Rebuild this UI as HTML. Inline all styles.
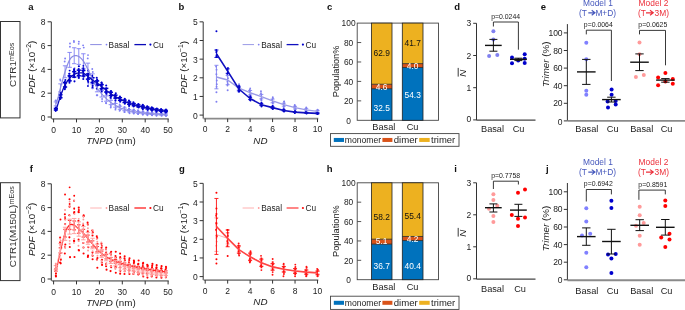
<!DOCTYPE html>
<html><head><meta charset="utf-8"><style>
html,body{margin:0;padding:0;background:#fff;}
svg{display:block;font-family:"Liberation Sans", sans-serif;filter:blur(0.3px);}
</style></head><body>
<svg width="685" height="310" viewBox="0 0 685 310">
<rect width="685" height="310" fill="#fff"/>
<rect x="0.5" y="21.5" width="19.5" height="96.4" fill="none" stroke="#333" stroke-width="1"/>
<text transform="translate(12.2,64.8) rotate(-90)" x="0" y="3.55" font-size="9.9" text-anchor="middle" fill="#333">CTR1<tspan font-size="7.2" dy="-2.0">mEos</tspan></text>
<rect x="0.5" y="182.7" width="19.5" height="97.9" fill="none" stroke="#333" stroke-width="1"/>
<text transform="translate(12.2,226.7) rotate(-90)" x="0" y="3.55" font-size="9.9" text-anchor="middle" fill="#333">CTR1(M150L)<tspan font-size="7.2" dy="-2.0">mEos</tspan></text>
<text x="30.8" y="10.1" font-size="9.5" font-weight="bold" text-anchor="middle" fill="#111">a</text>
<line x1="51.3" y1="21.8" x2="51.3" y2="118.9" stroke="#333" stroke-width="1"/>
<line x1="47.6" y1="117" x2="51.3" y2="117" stroke="#333" stroke-width="1"/>
<text x="45.6" y="120.54" font-size="8.5" text-anchor="end" fill="#222">0</text>
<line x1="47.6" y1="93.2" x2="51.3" y2="93.2" stroke="#333" stroke-width="1"/>
<text x="45.6" y="96.74" font-size="8.5" text-anchor="end" fill="#222">2</text>
<line x1="47.6" y1="69.4" x2="51.3" y2="69.4" stroke="#333" stroke-width="1"/>
<text x="45.6" y="72.94" font-size="8.5" text-anchor="end" fill="#222">4</text>
<line x1="47.6" y1="45.6" x2="51.3" y2="45.6" stroke="#333" stroke-width="1"/>
<text x="45.6" y="49.14" font-size="8.5" text-anchor="end" fill="#222">6</text>
<line x1="47.6" y1="21.8" x2="51.3" y2="21.8" stroke="#333" stroke-width="1"/>
<text x="45.6" y="25.34" font-size="8.5" text-anchor="end" fill="#222">8</text>
<line x1="51.8" y1="118.9" x2="168.7" y2="118.9" stroke="#8a8a8a" stroke-width="1.9"/>
<line x1="53.6" y1="118.9" x2="53.6" y2="122.4" stroke="#333" stroke-width="1"/>
<text x="53.6" y="132.74" font-size="8.5" text-anchor="middle" fill="#222">0</text>
<line x1="76.5" y1="118.9" x2="76.5" y2="122.4" stroke="#333" stroke-width="1"/>
<text x="76.5" y="132.74" font-size="8.5" text-anchor="middle" fill="#222">10</text>
<line x1="99.4" y1="118.9" x2="99.4" y2="122.4" stroke="#333" stroke-width="1"/>
<text x="99.4" y="132.74" font-size="8.5" text-anchor="middle" fill="#222">20</text>
<line x1="122.3" y1="118.9" x2="122.3" y2="122.4" stroke="#333" stroke-width="1"/>
<text x="122.3" y="132.74" font-size="8.5" text-anchor="middle" fill="#222">30</text>
<line x1="145.2" y1="118.9" x2="145.2" y2="122.4" stroke="#333" stroke-width="1"/>
<text x="145.2" y="132.74" font-size="8.5" text-anchor="middle" fill="#222">40</text>
<line x1="168.1" y1="118.9" x2="168.1" y2="122.4" stroke="#333" stroke-width="1"/>
<text x="168.1" y="132.74" font-size="8.5" text-anchor="middle" fill="#222">50</text>
<text x="110.9" y="143.7" font-size="9.8" text-anchor="middle" fill="#222"><tspan font-style="italic">TNPD</tspan> (nm)</text>
<text transform="translate(31.6,67.4) rotate(-90)" x="0" y="3.3" font-size="9.8" text-anchor="middle" fill="#222"><tspan font-style="italic">PDF</tspan> (×10<tspan font-size="6.8" dy="-3.6">−2</tspan><tspan dy="3.6">)</tspan></text>
<circle cx="55.93" cy="107.51" r="0.95" fill="#8080f4"/>
<circle cx="55.97" cy="106.96" r="0.95" fill="#8080f4"/>
<circle cx="55.54" cy="100.54" r="0.95" fill="#8080f4"/>
<circle cx="56.16" cy="100.68" r="0.95" fill="#8080f4"/>
<circle cx="60.26" cy="95.1" r="0.95" fill="#8080f4"/>
<circle cx="60.45" cy="95.55" r="0.95" fill="#8080f4"/>
<circle cx="60.45" cy="80.55" r="0.95" fill="#8080f4"/>
<circle cx="60.19" cy="79.37" r="0.95" fill="#8080f4"/>
<circle cx="65.34" cy="84.48" r="0.95" fill="#8080f4"/>
<circle cx="65.24" cy="81.51" r="0.95" fill="#8080f4"/>
<circle cx="64.7" cy="61.48" r="0.95" fill="#8080f4"/>
<circle cx="65.12" cy="58.49" r="0.95" fill="#8080f4"/>
<circle cx="69.25" cy="73.71" r="0.95" fill="#8080f4"/>
<circle cx="69.61" cy="73.66" r="0.95" fill="#8080f4"/>
<circle cx="69.93" cy="46.81" r="0.95" fill="#8080f4"/>
<circle cx="69.97" cy="43.57" r="0.95" fill="#8080f4"/>
<circle cx="74.45" cy="71.11" r="0.95" fill="#8080f4"/>
<circle cx="74.56" cy="68.28" r="0.95" fill="#8080f4"/>
<circle cx="73.89" cy="40.92" r="0.95" fill="#8080f4"/>
<circle cx="73.98" cy="41.99" r="0.95" fill="#8080f4"/>
<circle cx="78.74" cy="75.36" r="0.95" fill="#8080f4"/>
<circle cx="78.63" cy="69.88" r="0.95" fill="#8080f4"/>
<circle cx="78.7" cy="43.83" r="0.95" fill="#8080f4"/>
<circle cx="78.86" cy="41.64" r="0.95" fill="#8080f4"/>
<circle cx="83.69" cy="76.29" r="0.95" fill="#8080f4"/>
<circle cx="83.71" cy="73.71" r="0.95" fill="#8080f4"/>
<circle cx="83.76" cy="47.61" r="0.95" fill="#8080f4"/>
<circle cx="83.1" cy="45.33" r="0.95" fill="#8080f4"/>
<circle cx="88.32" cy="83.87" r="0.95" fill="#8080f4"/>
<circle cx="88.01" cy="81.15" r="0.95" fill="#8080f4"/>
<circle cx="87.72" cy="58.42" r="0.95" fill="#8080f4"/>
<circle cx="88.01" cy="55.08" r="0.95" fill="#8080f4"/>
<circle cx="92.18" cy="88.3" r="0.95" fill="#8080f4"/>
<circle cx="92.92" cy="88.29" r="0.95" fill="#8080f4"/>
<circle cx="92.77" cy="72.06" r="0.95" fill="#8080f4"/>
<circle cx="92.25" cy="69.02" r="0.95" fill="#8080f4"/>
<circle cx="97.33" cy="95.22" r="0.95" fill="#8080f4"/>
<circle cx="96.75" cy="95.23" r="0.95" fill="#8080f4"/>
<circle cx="96.75" cy="81.12" r="0.95" fill="#8080f4"/>
<circle cx="96.97" cy="79.11" r="0.95" fill="#8080f4"/>
<circle cx="102.07" cy="101.34" r="0.95" fill="#8080f4"/>
<circle cx="102.09" cy="99.04" r="0.95" fill="#8080f4"/>
<circle cx="101.35" cy="88.96" r="0.95" fill="#8080f4"/>
<circle cx="101.32" cy="86.99" r="0.95" fill="#8080f4"/>
<circle cx="106.2" cy="103.26" r="0.95" fill="#8080f4"/>
<circle cx="105.99" cy="103.03" r="0.95" fill="#8080f4"/>
<circle cx="106.56" cy="95.06" r="0.95" fill="#8080f4"/>
<circle cx="106.64" cy="93.6" r="0.95" fill="#8080f4"/>
<circle cx="110.75" cy="107.55" r="0.95" fill="#8080f4"/>
<circle cx="110.87" cy="105.93" r="0.95" fill="#8080f4"/>
<circle cx="110.93" cy="98.78" r="0.95" fill="#8080f4"/>
<circle cx="110.95" cy="98.01" r="0.95" fill="#8080f4"/>
<circle cx="115.44" cy="109.64" r="0.95" fill="#8080f4"/>
<circle cx="115.61" cy="108.18" r="0.95" fill="#8080f4"/>
<circle cx="115.27" cy="102.72" r="0.95" fill="#8080f4"/>
<circle cx="115.45" cy="100.98" r="0.95" fill="#8080f4"/>
<circle cx="119.62" cy="110.84" r="0.95" fill="#8080f4"/>
<circle cx="120.07" cy="110.09" r="0.95" fill="#8080f4"/>
<circle cx="120.1" cy="105.74" r="0.95" fill="#8080f4"/>
<circle cx="119.66" cy="104.49" r="0.95" fill="#8080f4"/>
<circle cx="124.56" cy="112.17" r="0.95" fill="#8080f4"/>
<circle cx="124.47" cy="111.65" r="0.95" fill="#8080f4"/>
<circle cx="124.78" cy="107.09" r="0.95" fill="#8080f4"/>
<circle cx="124.24" cy="107.24" r="0.95" fill="#8080f4"/>
<circle cx="129.54" cy="113.18" r="0.95" fill="#8080f4"/>
<circle cx="129.14" cy="112.36" r="0.95" fill="#8080f4"/>
<circle cx="129.03" cy="108.77" r="0.95" fill="#8080f4"/>
<circle cx="129.02" cy="108.5" r="0.95" fill="#8080f4"/>
<circle cx="133.83" cy="113.62" r="0.95" fill="#8080f4"/>
<circle cx="133.65" cy="113.18" r="0.95" fill="#8080f4"/>
<circle cx="133.37" cy="109.8" r="0.95" fill="#8080f4"/>
<circle cx="133.94" cy="109.5" r="0.95" fill="#8080f4"/>
<circle cx="138.11" cy="114.12" r="0.95" fill="#8080f4"/>
<circle cx="138.12" cy="114.07" r="0.95" fill="#8080f4"/>
<circle cx="138.28" cy="111.03" r="0.95" fill="#8080f4"/>
<circle cx="138.01" cy="110.3" r="0.95" fill="#8080f4"/>
<circle cx="142.78" cy="114.58" r="0.95" fill="#8080f4"/>
<circle cx="142.86" cy="114.55" r="0.95" fill="#8080f4"/>
<circle cx="142.65" cy="111.35" r="0.95" fill="#8080f4"/>
<circle cx="143.03" cy="111.31" r="0.95" fill="#8080f4"/>
<circle cx="147.45" cy="115.32" r="0.95" fill="#8080f4"/>
<circle cx="147.19" cy="114.6" r="0.95" fill="#8080f4"/>
<circle cx="147.24" cy="112.11" r="0.95" fill="#8080f4"/>
<circle cx="147.76" cy="111.59" r="0.95" fill="#8080f4"/>
<circle cx="151.89" cy="115.14" r="0.95" fill="#8080f4"/>
<circle cx="152.18" cy="115.18" r="0.95" fill="#8080f4"/>
<circle cx="151.95" cy="112.4" r="0.95" fill="#8080f4"/>
<circle cx="151.9" cy="112.47" r="0.95" fill="#8080f4"/>
<circle cx="156.47" cy="115.77" r="0.95" fill="#8080f4"/>
<circle cx="156.58" cy="115.24" r="0.95" fill="#8080f4"/>
<circle cx="156.58" cy="113.02" r="0.95" fill="#8080f4"/>
<circle cx="156.37" cy="112.44" r="0.95" fill="#8080f4"/>
<circle cx="161.58" cy="115.5" r="0.95" fill="#8080f4"/>
<circle cx="161.62" cy="115.67" r="0.95" fill="#8080f4"/>
<circle cx="161.59" cy="113.29" r="0.95" fill="#8080f4"/>
<circle cx="161.01" cy="112.74" r="0.95" fill="#8080f4"/>
<circle cx="166.08" cy="116.09" r="0.95" fill="#8080f4"/>
<circle cx="165.83" cy="115.76" r="0.95" fill="#8080f4"/>
<circle cx="165.68" cy="113.64" r="0.95" fill="#8080f4"/>
<circle cx="165.46" cy="113.43" r="0.95" fill="#8080f4"/>
<line x1="55.89" y1="101.92" x2="55.89" y2="105.9" stroke="#8080f4" stroke-width="0.9"/>
<line x1="53.69" y1="101.92" x2="58.09" y2="101.92" stroke="#8080f4" stroke-width="0.9"/>
<line x1="53.69" y1="105.9" x2="58.09" y2="105.9" stroke="#8080f4" stroke-width="0.9"/>
<line x1="60.47" y1="83.86" x2="60.47" y2="91.83" stroke="#8080f4" stroke-width="0.9"/>
<line x1="58.27" y1="83.86" x2="62.67" y2="83.86" stroke="#8080f4" stroke-width="0.9"/>
<line x1="58.27" y1="91.83" x2="62.67" y2="91.83" stroke="#8080f4" stroke-width="0.9"/>
<line x1="65.05" y1="65.8" x2="65.05" y2="77.76" stroke="#8080f4" stroke-width="0.9"/>
<line x1="62.85" y1="65.8" x2="67.25" y2="65.8" stroke="#8080f4" stroke-width="0.9"/>
<line x1="62.85" y1="77.76" x2="67.25" y2="77.76" stroke="#8080f4" stroke-width="0.9"/>
<line x1="69.63" y1="52.43" x2="69.63" y2="67.33" stroke="#8080f4" stroke-width="0.9"/>
<line x1="67.43" y1="52.43" x2="71.83" y2="52.43" stroke="#8080f4" stroke-width="0.9"/>
<line x1="67.43" y1="67.33" x2="71.83" y2="67.33" stroke="#8080f4" stroke-width="0.9"/>
<line x1="74.21" y1="47.75" x2="74.21" y2="63.68" stroke="#8080f4" stroke-width="0.9"/>
<line x1="72.01" y1="47.75" x2="76.41" y2="47.75" stroke="#8080f4" stroke-width="0.9"/>
<line x1="72.01" y1="63.68" x2="76.41" y2="63.68" stroke="#8080f4" stroke-width="0.9"/>
<line x1="78.79" y1="48.68" x2="78.79" y2="64.41" stroke="#8080f4" stroke-width="0.9"/>
<line x1="76.59" y1="48.68" x2="80.99" y2="48.68" stroke="#8080f4" stroke-width="0.9"/>
<line x1="76.59" y1="64.41" x2="80.99" y2="64.41" stroke="#8080f4" stroke-width="0.9"/>
<line x1="83.37" y1="53.77" x2="83.37" y2="68.37" stroke="#8080f4" stroke-width="0.9"/>
<line x1="81.17" y1="53.77" x2="85.57" y2="53.77" stroke="#8080f4" stroke-width="0.9"/>
<line x1="81.17" y1="68.37" x2="85.57" y2="68.37" stroke="#8080f4" stroke-width="0.9"/>
<line x1="87.95" y1="63.13" x2="87.95" y2="75.67" stroke="#8080f4" stroke-width="0.9"/>
<line x1="85.75" y1="63.13" x2="90.15" y2="63.13" stroke="#8080f4" stroke-width="0.9"/>
<line x1="85.75" y1="75.67" x2="90.15" y2="75.67" stroke="#8080f4" stroke-width="0.9"/>
<line x1="92.53" y1="73.83" x2="92.53" y2="84.01" stroke="#8080f4" stroke-width="0.9"/>
<line x1="90.33" y1="73.83" x2="94.73" y2="73.83" stroke="#8080f4" stroke-width="0.9"/>
<line x1="90.33" y1="84.01" x2="94.73" y2="84.01" stroke="#8080f4" stroke-width="0.9"/>
<line x1="97.11" y1="83.86" x2="97.11" y2="91.83" stroke="#8080f4" stroke-width="0.9"/>
<line x1="94.91" y1="83.86" x2="99.31" y2="83.86" stroke="#8080f4" stroke-width="0.9"/>
<line x1="94.91" y1="91.83" x2="99.31" y2="91.83" stroke="#8080f4" stroke-width="0.9"/>
<line x1="101.69" y1="90.55" x2="101.69" y2="97.04" stroke="#8080f4" stroke-width="0.9"/>
<line x1="99.49" y1="90.55" x2="103.89" y2="90.55" stroke="#8080f4" stroke-width="0.9"/>
<line x1="99.49" y1="97.04" x2="103.89" y2="97.04" stroke="#8080f4" stroke-width="0.9"/>
<line x1="106.27" y1="95.9" x2="106.27" y2="101.21" stroke="#8080f4" stroke-width="0.9"/>
<line x1="104.07" y1="95.9" x2="108.47" y2="95.9" stroke="#8080f4" stroke-width="0.9"/>
<line x1="104.07" y1="101.21" x2="108.47" y2="101.21" stroke="#8080f4" stroke-width="0.9"/>
<line x1="110.85" y1="100.31" x2="110.85" y2="104.65" stroke="#8080f4" stroke-width="0.9"/>
<line x1="108.65" y1="100.31" x2="113.05" y2="100.31" stroke="#8080f4" stroke-width="0.9"/>
<line x1="108.65" y1="104.65" x2="113.05" y2="104.65" stroke="#8080f4" stroke-width="0.9"/>
<line x1="115.43" y1="103.52" x2="115.43" y2="107.15" stroke="#8080f4" stroke-width="0.9"/>
<line x1="113.23" y1="103.52" x2="117.63" y2="103.52" stroke="#8080f4" stroke-width="0.9"/>
<line x1="113.23" y1="107.15" x2="117.63" y2="107.15" stroke="#8080f4" stroke-width="0.9"/>
<line x1="120.01" y1="106.2" x2="120.01" y2="109.24" stroke="#8080f4" stroke-width="0.9"/>
<line x1="117.81" y1="106.2" x2="122.21" y2="106.2" stroke="#8080f4" stroke-width="0.9"/>
<line x1="117.81" y1="109.24" x2="122.21" y2="109.24" stroke="#8080f4" stroke-width="0.9"/>
<line x1="124.59" y1="108.07" x2="124.59" y2="110.7" stroke="#8080f4" stroke-width="0.9"/>
<line x1="122.39" y1="108.07" x2="126.79" y2="108.07" stroke="#8080f4" stroke-width="0.9"/>
<line x1="122.39" y1="110.7" x2="126.79" y2="110.7" stroke="#8080f4" stroke-width="0.9"/>
<line x1="129.17" y1="109.54" x2="129.17" y2="111.84" stroke="#8080f4" stroke-width="0.9"/>
<line x1="126.97" y1="109.54" x2="131.37" y2="109.54" stroke="#8080f4" stroke-width="0.9"/>
<line x1="126.97" y1="111.84" x2="131.37" y2="111.84" stroke="#8080f4" stroke-width="0.9"/>
<line x1="133.75" y1="110.61" x2="133.75" y2="112.68" stroke="#8080f4" stroke-width="0.9"/>
<line x1="131.55" y1="110.61" x2="135.95" y2="110.61" stroke="#8080f4" stroke-width="0.9"/>
<line x1="131.55" y1="112.68" x2="135.95" y2="112.68" stroke="#8080f4" stroke-width="0.9"/>
<line x1="138.33" y1="111.41" x2="138.33" y2="113.3" stroke="#8080f4" stroke-width="0.9"/>
<line x1="136.13" y1="111.41" x2="140.53" y2="111.41" stroke="#8080f4" stroke-width="0.9"/>
<line x1="136.13" y1="113.3" x2="140.53" y2="113.3" stroke="#8080f4" stroke-width="0.9"/>
<line x1="142.91" y1="112.08" x2="142.91" y2="113.82" stroke="#8080f4" stroke-width="0.9"/>
<line x1="140.71" y1="112.08" x2="145.11" y2="112.08" stroke="#8080f4" stroke-width="0.9"/>
<line x1="140.71" y1="113.82" x2="145.11" y2="113.82" stroke="#8080f4" stroke-width="0.9"/>
<line x1="147.49" y1="112.62" x2="147.49" y2="114.24" stroke="#8080f4" stroke-width="0.9"/>
<line x1="145.29" y1="112.62" x2="149.69" y2="112.62" stroke="#8080f4" stroke-width="0.9"/>
<line x1="145.29" y1="114.24" x2="149.69" y2="114.24" stroke="#8080f4" stroke-width="0.9"/>
<line x1="152.07" y1="113.02" x2="152.07" y2="114.55" stroke="#8080f4" stroke-width="0.9"/>
<line x1="149.87" y1="113.02" x2="154.27" y2="113.02" stroke="#8080f4" stroke-width="0.9"/>
<line x1="149.87" y1="114.55" x2="154.27" y2="114.55" stroke="#8080f4" stroke-width="0.9"/>
<line x1="156.65" y1="113.42" x2="156.65" y2="114.87" stroke="#8080f4" stroke-width="0.9"/>
<line x1="154.45" y1="113.42" x2="158.85" y2="113.42" stroke="#8080f4" stroke-width="0.9"/>
<line x1="154.45" y1="114.87" x2="158.85" y2="114.87" stroke="#8080f4" stroke-width="0.9"/>
<line x1="161.23" y1="113.69" x2="161.23" y2="115.08" stroke="#8080f4" stroke-width="0.9"/>
<line x1="159.03" y1="113.69" x2="163.43" y2="113.69" stroke="#8080f4" stroke-width="0.9"/>
<line x1="159.03" y1="115.08" x2="163.43" y2="115.08" stroke="#8080f4" stroke-width="0.9"/>
<line x1="165.81" y1="113.96" x2="165.81" y2="115.28" stroke="#8080f4" stroke-width="0.9"/>
<line x1="163.61" y1="113.96" x2="168.01" y2="113.96" stroke="#8080f4" stroke-width="0.9"/>
<line x1="163.61" y1="115.28" x2="168.01" y2="115.28" stroke="#8080f4" stroke-width="0.9"/>
<circle cx="55.72" cy="110.86" r="1.05" fill="#0000cc"/>
<circle cx="55.53" cy="110.26" r="1.05" fill="#0000cc"/>
<circle cx="56.04" cy="109.66" r="1.05" fill="#0000cc"/>
<circle cx="56.21" cy="108.63" r="1.05" fill="#0000cc"/>
<circle cx="55.95" cy="107.99" r="1.05" fill="#0000cc"/>
<circle cx="56.09" cy="107.81" r="1.05" fill="#0000cc"/>
<circle cx="60.31" cy="98.97" r="1.05" fill="#0000cc"/>
<circle cx="60.49" cy="98.23" r="1.05" fill="#0000cc"/>
<circle cx="60.82" cy="97" r="1.05" fill="#0000cc"/>
<circle cx="60.34" cy="95.28" r="1.05" fill="#0000cc"/>
<circle cx="60.76" cy="94.44" r="1.05" fill="#0000cc"/>
<circle cx="60.7" cy="92.99" r="1.05" fill="#0000cc"/>
<circle cx="64.81" cy="89.17" r="1.05" fill="#0000cc"/>
<circle cx="65.3" cy="87.65" r="1.05" fill="#0000cc"/>
<circle cx="65.28" cy="85.93" r="1.05" fill="#0000cc"/>
<circle cx="65.29" cy="83.45" r="1.05" fill="#0000cc"/>
<circle cx="64.66" cy="81.77" r="1.05" fill="#0000cc"/>
<circle cx="65.34" cy="80.07" r="1.05" fill="#0000cc"/>
<circle cx="69.45" cy="82.72" r="1.05" fill="#0000cc"/>
<circle cx="69.65" cy="81.24" r="1.05" fill="#0000cc"/>
<circle cx="69.61" cy="79.71" r="1.05" fill="#0000cc"/>
<circle cx="69.23" cy="76.74" r="1.05" fill="#0000cc"/>
<circle cx="69.33" cy="75.68" r="1.05" fill="#0000cc"/>
<circle cx="69.28" cy="73.77" r="1.05" fill="#0000cc"/>
<circle cx="74.49" cy="81.33" r="1.05" fill="#0000cc"/>
<circle cx="74.21" cy="77.32" r="1.05" fill="#0000cc"/>
<circle cx="74.06" cy="75.84" r="1.05" fill="#0000cc"/>
<circle cx="74.33" cy="72.94" r="1.05" fill="#0000cc"/>
<circle cx="74.1" cy="70.78" r="1.05" fill="#0000cc"/>
<circle cx="74.07" cy="69.29" r="1.05" fill="#0000cc"/>
<circle cx="78.83" cy="78.06" r="1.05" fill="#0000cc"/>
<circle cx="78.69" cy="76.88" r="1.05" fill="#0000cc"/>
<circle cx="78.53" cy="74.3" r="1.05" fill="#0000cc"/>
<circle cx="78.87" cy="71.45" r="1.05" fill="#0000cc"/>
<circle cx="78.69" cy="68.96" r="1.05" fill="#0000cc"/>
<circle cx="78.89" cy="66.25" r="1.05" fill="#0000cc"/>
<circle cx="83.27" cy="79.01" r="1.05" fill="#0000cc"/>
<circle cx="83.53" cy="76.78" r="1.05" fill="#0000cc"/>
<circle cx="83.53" cy="74.75" r="1.05" fill="#0000cc"/>
<circle cx="83.17" cy="71.64" r="1.05" fill="#0000cc"/>
<circle cx="83.53" cy="69.58" r="1.05" fill="#0000cc"/>
<circle cx="83.31" cy="68.26" r="1.05" fill="#0000cc"/>
<circle cx="88.25" cy="81.94" r="1.05" fill="#0000cc"/>
<circle cx="87.85" cy="80.46" r="1.05" fill="#0000cc"/>
<circle cx="88.18" cy="78.26" r="1.05" fill="#0000cc"/>
<circle cx="87.92" cy="75.2" r="1.05" fill="#0000cc"/>
<circle cx="88.2" cy="73.7" r="1.05" fill="#0000cc"/>
<circle cx="88.26" cy="70.61" r="1.05" fill="#0000cc"/>
<circle cx="92.66" cy="85.85" r="1.05" fill="#0000cc"/>
<circle cx="92.58" cy="83.48" r="1.05" fill="#0000cc"/>
<circle cx="92.6" cy="81.26" r="1.05" fill="#0000cc"/>
<circle cx="92.24" cy="79.01" r="1.05" fill="#0000cc"/>
<circle cx="92.17" cy="76.69" r="1.05" fill="#0000cc"/>
<circle cx="92.21" cy="75.81" r="1.05" fill="#0000cc"/>
<circle cx="96.85" cy="88.6" r="1.05" fill="#0000cc"/>
<circle cx="97.38" cy="85.41" r="1.05" fill="#0000cc"/>
<circle cx="97.39" cy="84.17" r="1.05" fill="#0000cc"/>
<circle cx="97.38" cy="81.72" r="1.05" fill="#0000cc"/>
<circle cx="97.17" cy="79.7" r="1.05" fill="#0000cc"/>
<circle cx="96.74" cy="77.73" r="1.05" fill="#0000cc"/>
<circle cx="101.7" cy="91.48" r="1.05" fill="#0000cc"/>
<circle cx="101.38" cy="89.49" r="1.05" fill="#0000cc"/>
<circle cx="102.04" cy="87.93" r="1.05" fill="#0000cc"/>
<circle cx="101.55" cy="85.7" r="1.05" fill="#0000cc"/>
<circle cx="101.95" cy="83.97" r="1.05" fill="#0000cc"/>
<circle cx="101.43" cy="82.75" r="1.05" fill="#0000cc"/>
<circle cx="106.36" cy="93.76" r="1.05" fill="#0000cc"/>
<circle cx="106.18" cy="92.82" r="1.05" fill="#0000cc"/>
<circle cx="106.19" cy="91.22" r="1.05" fill="#0000cc"/>
<circle cx="106.2" cy="89.24" r="1.05" fill="#0000cc"/>
<circle cx="106.27" cy="88.26" r="1.05" fill="#0000cc"/>
<circle cx="106.2" cy="85.55" r="1.05" fill="#0000cc"/>
<circle cx="110.58" cy="97.74" r="1.05" fill="#0000cc"/>
<circle cx="111.05" cy="96.16" r="1.05" fill="#0000cc"/>
<circle cx="110.86" cy="94.91" r="1.05" fill="#0000cc"/>
<circle cx="110.96" cy="92.99" r="1.05" fill="#0000cc"/>
<circle cx="110.57" cy="91.49" r="1.05" fill="#0000cc"/>
<circle cx="111.05" cy="90.99" r="1.05" fill="#0000cc"/>
<circle cx="115.44" cy="100.33" r="1.05" fill="#0000cc"/>
<circle cx="115.61" cy="98.5" r="1.05" fill="#0000cc"/>
<circle cx="115.24" cy="97.39" r="1.05" fill="#0000cc"/>
<circle cx="115.5" cy="95.91" r="1.05" fill="#0000cc"/>
<circle cx="115.22" cy="94.9" r="1.05" fill="#0000cc"/>
<circle cx="115.79" cy="93.25" r="1.05" fill="#0000cc"/>
<circle cx="120.17" cy="101.67" r="1.05" fill="#0000cc"/>
<circle cx="120.29" cy="100.69" r="1.05" fill="#0000cc"/>
<circle cx="119.82" cy="99.82" r="1.05" fill="#0000cc"/>
<circle cx="119.63" cy="98.35" r="1.05" fill="#0000cc"/>
<circle cx="119.92" cy="97.32" r="1.05" fill="#0000cc"/>
<circle cx="119.9" cy="96.54" r="1.05" fill="#0000cc"/>
<circle cx="124.81" cy="103.71" r="1.05" fill="#0000cc"/>
<circle cx="124.98" cy="102.63" r="1.05" fill="#0000cc"/>
<circle cx="124.67" cy="101.98" r="1.05" fill="#0000cc"/>
<circle cx="124.86" cy="100.61" r="1.05" fill="#0000cc"/>
<circle cx="124.64" cy="99.53" r="1.05" fill="#0000cc"/>
<circle cx="124.77" cy="98.71" r="1.05" fill="#0000cc"/>
<circle cx="129.09" cy="105.9" r="1.05" fill="#0000cc"/>
<circle cx="129.54" cy="104.75" r="1.05" fill="#0000cc"/>
<circle cx="128.95" cy="103.82" r="1.05" fill="#0000cc"/>
<circle cx="129.34" cy="102.63" r="1.05" fill="#0000cc"/>
<circle cx="129.54" cy="101.67" r="1.05" fill="#0000cc"/>
<circle cx="128.96" cy="100.49" r="1.05" fill="#0000cc"/>
<circle cx="133.56" cy="106.55" r="1.05" fill="#0000cc"/>
<circle cx="133.91" cy="105.78" r="1.05" fill="#0000cc"/>
<circle cx="134.07" cy="105.29" r="1.05" fill="#0000cc"/>
<circle cx="134.04" cy="104.1" r="1.05" fill="#0000cc"/>
<circle cx="133.69" cy="103.4" r="1.05" fill="#0000cc"/>
<circle cx="133.42" cy="102.22" r="1.05" fill="#0000cc"/>
<circle cx="138.6" cy="107.54" r="1.05" fill="#0000cc"/>
<circle cx="138.22" cy="106.95" r="1.05" fill="#0000cc"/>
<circle cx="138.47" cy="106.38" r="1.05" fill="#0000cc"/>
<circle cx="138.2" cy="105.37" r="1.05" fill="#0000cc"/>
<circle cx="138.32" cy="104.61" r="1.05" fill="#0000cc"/>
<circle cx="138.4" cy="104" r="1.05" fill="#0000cc"/>
<circle cx="142.82" cy="109.27" r="1.05" fill="#0000cc"/>
<circle cx="142.61" cy="108.17" r="1.05" fill="#0000cc"/>
<circle cx="143.04" cy="107.47" r="1.05" fill="#0000cc"/>
<circle cx="143.22" cy="106.57" r="1.05" fill="#0000cc"/>
<circle cx="142.59" cy="105.67" r="1.05" fill="#0000cc"/>
<circle cx="142.81" cy="104.75" r="1.05" fill="#0000cc"/>
<circle cx="147.7" cy="110.05" r="1.05" fill="#0000cc"/>
<circle cx="147.63" cy="109.06" r="1.05" fill="#0000cc"/>
<circle cx="147.73" cy="108.58" r="1.05" fill="#0000cc"/>
<circle cx="147.69" cy="107.64" r="1.05" fill="#0000cc"/>
<circle cx="147.63" cy="106.81" r="1.05" fill="#0000cc"/>
<circle cx="147.18" cy="106.26" r="1.05" fill="#0000cc"/>
<circle cx="151.95" cy="110.69" r="1.05" fill="#0000cc"/>
<circle cx="152.21" cy="110.12" r="1.05" fill="#0000cc"/>
<circle cx="151.82" cy="109.48" r="1.05" fill="#0000cc"/>
<circle cx="152.17" cy="108.56" r="1.05" fill="#0000cc"/>
<circle cx="152.38" cy="108.15" r="1.05" fill="#0000cc"/>
<circle cx="151.77" cy="107.25" r="1.05" fill="#0000cc"/>
<circle cx="156.36" cy="111.7" r="1.05" fill="#0000cc"/>
<circle cx="156.83" cy="110.74" r="1.05" fill="#0000cc"/>
<circle cx="156.69" cy="110.3" r="1.05" fill="#0000cc"/>
<circle cx="156.62" cy="109.42" r="1.05" fill="#0000cc"/>
<circle cx="156.39" cy="108.99" r="1.05" fill="#0000cc"/>
<circle cx="156.82" cy="108.56" r="1.05" fill="#0000cc"/>
<circle cx="161.26" cy="112.21" r="1.05" fill="#0000cc"/>
<circle cx="161.12" cy="111.55" r="1.05" fill="#0000cc"/>
<circle cx="161.14" cy="110.93" r="1.05" fill="#0000cc"/>
<circle cx="160.86" cy="110.12" r="1.05" fill="#0000cc"/>
<circle cx="161.03" cy="109.68" r="1.05" fill="#0000cc"/>
<circle cx="161.11" cy="108.93" r="1.05" fill="#0000cc"/>
<circle cx="165.73" cy="112.38" r="1.05" fill="#0000cc"/>
<circle cx="166.03" cy="111.92" r="1.05" fill="#0000cc"/>
<circle cx="166.09" cy="111.41" r="1.05" fill="#0000cc"/>
<circle cx="165.63" cy="110.73" r="1.05" fill="#0000cc"/>
<circle cx="165.5" cy="110.33" r="1.05" fill="#0000cc"/>
<circle cx="165.99" cy="109.46" r="1.05" fill="#0000cc"/>
<line x1="55.89" y1="108.37" x2="55.89" y2="109.92" stroke="#0000cc" stroke-width="1.5"/>
<line x1="53.79" y1="108.37" x2="57.99" y2="108.37" stroke="#0000cc" stroke-width="1.5"/>
<line x1="53.79" y1="109.92" x2="57.99" y2="109.92" stroke="#0000cc" stroke-width="1.5"/>
<line x1="60.47" y1="94.68" x2="60.47" y2="97.67" stroke="#0000cc" stroke-width="1.5"/>
<line x1="58.37" y1="94.68" x2="62.57" y2="94.68" stroke="#0000cc" stroke-width="1.5"/>
<line x1="58.37" y1="97.67" x2="62.57" y2="97.67" stroke="#0000cc" stroke-width="1.5"/>
<line x1="65.05" y1="82.74" x2="65.05" y2="87" stroke="#0000cc" stroke-width="1.5"/>
<line x1="62.95" y1="82.74" x2="67.15" y2="82.74" stroke="#0000cc" stroke-width="1.5"/>
<line x1="62.95" y1="87" x2="67.15" y2="87" stroke="#0000cc" stroke-width="1.5"/>
<line x1="69.63" y1="75.83" x2="69.63" y2="80.82" stroke="#0000cc" stroke-width="1.5"/>
<line x1="67.53" y1="75.83" x2="71.73" y2="75.83" stroke="#0000cc" stroke-width="1.5"/>
<line x1="67.53" y1="80.82" x2="71.73" y2="80.82" stroke="#0000cc" stroke-width="1.5"/>
<line x1="74.21" y1="71.68" x2="74.21" y2="77.12" stroke="#0000cc" stroke-width="1.5"/>
<line x1="72.11" y1="71.68" x2="76.31" y2="71.68" stroke="#0000cc" stroke-width="1.5"/>
<line x1="72.11" y1="77.12" x2="76.31" y2="77.12" stroke="#0000cc" stroke-width="1.5"/>
<line x1="78.79" y1="70.17" x2="78.79" y2="75.77" stroke="#0000cc" stroke-width="1.5"/>
<line x1="76.69" y1="70.17" x2="80.89" y2="70.17" stroke="#0000cc" stroke-width="1.5"/>
<line x1="76.69" y1="75.77" x2="80.89" y2="75.77" stroke="#0000cc" stroke-width="1.5"/>
<line x1="83.37" y1="70.42" x2="83.37" y2="75.99" stroke="#0000cc" stroke-width="1.5"/>
<line x1="81.27" y1="70.42" x2="85.47" y2="70.42" stroke="#0000cc" stroke-width="1.5"/>
<line x1="81.27" y1="75.99" x2="85.47" y2="75.99" stroke="#0000cc" stroke-width="1.5"/>
<line x1="87.95" y1="73.94" x2="87.95" y2="79.14" stroke="#0000cc" stroke-width="1.5"/>
<line x1="85.85" y1="73.94" x2="90.05" y2="73.94" stroke="#0000cc" stroke-width="1.5"/>
<line x1="85.85" y1="79.14" x2="90.05" y2="79.14" stroke="#0000cc" stroke-width="1.5"/>
<line x1="92.53" y1="77.71" x2="92.53" y2="82.51" stroke="#0000cc" stroke-width="1.5"/>
<line x1="90.43" y1="77.71" x2="94.63" y2="77.71" stroke="#0000cc" stroke-width="1.5"/>
<line x1="90.43" y1="82.51" x2="94.63" y2="82.51" stroke="#0000cc" stroke-width="1.5"/>
<line x1="97.11" y1="80.85" x2="97.11" y2="85.32" stroke="#0000cc" stroke-width="1.5"/>
<line x1="95.01" y1="80.85" x2="99.21" y2="80.85" stroke="#0000cc" stroke-width="1.5"/>
<line x1="95.01" y1="85.32" x2="99.21" y2="85.32" stroke="#0000cc" stroke-width="1.5"/>
<line x1="101.69" y1="84.62" x2="101.69" y2="88.69" stroke="#0000cc" stroke-width="1.5"/>
<line x1="99.59" y1="84.62" x2="103.79" y2="84.62" stroke="#0000cc" stroke-width="1.5"/>
<line x1="99.59" y1="88.69" x2="103.79" y2="88.69" stroke="#0000cc" stroke-width="1.5"/>
<line x1="106.27" y1="88.39" x2="106.27" y2="92.06" stroke="#0000cc" stroke-width="1.5"/>
<line x1="104.17" y1="88.39" x2="108.37" y2="88.39" stroke="#0000cc" stroke-width="1.5"/>
<line x1="104.17" y1="92.06" x2="108.37" y2="92.06" stroke="#0000cc" stroke-width="1.5"/>
<line x1="110.85" y1="92.29" x2="110.85" y2="95.54" stroke="#0000cc" stroke-width="1.5"/>
<line x1="108.75" y1="92.29" x2="112.95" y2="92.29" stroke="#0000cc" stroke-width="1.5"/>
<line x1="108.75" y1="95.54" x2="112.95" y2="95.54" stroke="#0000cc" stroke-width="1.5"/>
<line x1="115.43" y1="95.18" x2="115.43" y2="98.12" stroke="#0000cc" stroke-width="1.5"/>
<line x1="113.33" y1="95.18" x2="117.53" y2="95.18" stroke="#0000cc" stroke-width="1.5"/>
<line x1="113.33" y1="98.12" x2="117.53" y2="98.12" stroke="#0000cc" stroke-width="1.5"/>
<line x1="120.01" y1="97.69" x2="120.01" y2="100.37" stroke="#0000cc" stroke-width="1.5"/>
<line x1="117.91" y1="97.69" x2="122.11" y2="97.69" stroke="#0000cc" stroke-width="1.5"/>
<line x1="117.91" y1="100.37" x2="122.11" y2="100.37" stroke="#0000cc" stroke-width="1.5"/>
<line x1="124.59" y1="100.08" x2="124.59" y2="102.5" stroke="#0000cc" stroke-width="1.5"/>
<line x1="122.49" y1="100.08" x2="126.69" y2="100.08" stroke="#0000cc" stroke-width="1.5"/>
<line x1="122.49" y1="102.5" x2="126.69" y2="102.5" stroke="#0000cc" stroke-width="1.5"/>
<line x1="129.17" y1="102.09" x2="129.17" y2="104.3" stroke="#0000cc" stroke-width="1.5"/>
<line x1="127.07" y1="102.09" x2="131.27" y2="102.09" stroke="#0000cc" stroke-width="1.5"/>
<line x1="127.07" y1="104.3" x2="131.27" y2="104.3" stroke="#0000cc" stroke-width="1.5"/>
<line x1="133.75" y1="103.6" x2="133.75" y2="105.65" stroke="#0000cc" stroke-width="1.5"/>
<line x1="131.65" y1="103.6" x2="135.85" y2="103.6" stroke="#0000cc" stroke-width="1.5"/>
<line x1="131.65" y1="105.65" x2="135.85" y2="105.65" stroke="#0000cc" stroke-width="1.5"/>
<line x1="138.33" y1="104.85" x2="138.33" y2="106.77" stroke="#0000cc" stroke-width="1.5"/>
<line x1="136.23" y1="104.85" x2="140.43" y2="104.85" stroke="#0000cc" stroke-width="1.5"/>
<line x1="136.23" y1="106.77" x2="140.43" y2="106.77" stroke="#0000cc" stroke-width="1.5"/>
<line x1="142.91" y1="106.11" x2="142.91" y2="107.9" stroke="#0000cc" stroke-width="1.5"/>
<line x1="140.81" y1="106.11" x2="145.01" y2="106.11" stroke="#0000cc" stroke-width="1.5"/>
<line x1="140.81" y1="107.9" x2="145.01" y2="107.9" stroke="#0000cc" stroke-width="1.5"/>
<line x1="147.49" y1="107.24" x2="147.49" y2="108.91" stroke="#0000cc" stroke-width="1.5"/>
<line x1="145.39" y1="107.24" x2="149.59" y2="107.24" stroke="#0000cc" stroke-width="1.5"/>
<line x1="145.39" y1="108.91" x2="149.59" y2="108.91" stroke="#0000cc" stroke-width="1.5"/>
<line x1="152.07" y1="108.25" x2="152.07" y2="109.81" stroke="#0000cc" stroke-width="1.5"/>
<line x1="149.97" y1="108.25" x2="154.17" y2="108.25" stroke="#0000cc" stroke-width="1.5"/>
<line x1="149.97" y1="109.81" x2="154.17" y2="109.81" stroke="#0000cc" stroke-width="1.5"/>
<line x1="156.65" y1="109.13" x2="156.65" y2="110.59" stroke="#0000cc" stroke-width="1.5"/>
<line x1="154.55" y1="109.13" x2="158.75" y2="109.13" stroke="#0000cc" stroke-width="1.5"/>
<line x1="154.55" y1="110.59" x2="158.75" y2="110.59" stroke="#0000cc" stroke-width="1.5"/>
<line x1="161.23" y1="109.88" x2="161.23" y2="111.27" stroke="#0000cc" stroke-width="1.5"/>
<line x1="159.13" y1="109.88" x2="163.33" y2="109.88" stroke="#0000cc" stroke-width="1.5"/>
<line x1="159.13" y1="111.27" x2="163.33" y2="111.27" stroke="#0000cc" stroke-width="1.5"/>
<line x1="165.81" y1="110.38" x2="165.81" y2="111.72" stroke="#0000cc" stroke-width="1.5"/>
<line x1="163.71" y1="110.38" x2="167.91" y2="110.38" stroke="#0000cc" stroke-width="1.5"/>
<line x1="163.71" y1="111.72" x2="167.91" y2="111.72" stroke="#0000cc" stroke-width="1.5"/>
<polyline points="55.89,103.91 57.04,101.02 58.18,96.88 59.33,92.24 60.47,87.84 61.62,83.73 62.76,79.55 63.91,75.5 65.05,71.78 66.2,68.33 67.34,65.09 68.48,62.21 69.63,59.88 70.78,58.18 71.92,57 73.06,56.22 74.21,55.71 75.36,55.49 76.5,55.59 77.65,55.96 78.79,56.55 79.94,57.33 81.08,58.34 82.22,59.59 83.37,61.07 84.52,62.86 85.66,64.92 86.81,67.14 87.95,69.4 89.09,71.71 90.24,74.12 91.39,76.55 92.53,78.92 93.68,81.26 94.82,83.61 95.97,85.84 97.11,87.84 98.25,89.57 99.4,91.08 100.55,92.46 101.69,93.8 102.84,95.09 103.98,96.3 105.12,97.45 106.27,98.56 107.41,99.62 108.56,100.64 109.71,101.6 110.85,102.48 112,103.28 113.14,104.01 114.28,104.68 115.43,105.34 116.58,105.98 117.72,106.6 118.87,107.18 120.01,107.72 121.16,108.19 122.3,108.62 123.44,109.01 124.59,109.38 125.74,109.74 126.88,110.08 128.03,110.4 129.17,110.69 130.31,110.96 131.46,111.21 132.6,111.43 133.75,111.64 134.9,111.84 136.04,112.02 137.19,112.19 138.33,112.36 139.47,112.52 140.62,112.67 141.77,112.82 142.91,112.95 144.06,113.08 145.2,113.21 146.34,113.32 147.49,113.43 148.63,113.53 149.78,113.62 150.93,113.7 152.07,113.79 153.22,113.88 154.36,113.97 155.5,114.06 156.65,114.14 157.8,114.21 158.94,114.27 160.09,114.33 161.23,114.38 162.38,114.45 163.52,114.52 164.66,114.58 165.81,114.62" fill="none" stroke="#8c8ce2" stroke-width="1.2" stroke-linejoin="round"/>
<polyline points="55.89,109.15 57.04,106.78 58.18,103.37 59.33,99.6 60.47,96.17 61.62,93.12 62.76,90.12 63.91,87.32 65.05,84.87 66.2,82.84 67.34,81.14 68.48,79.67 69.63,78.32 70.78,77.1 71.92,76.04 73.06,75.14 74.21,74.4 75.36,73.83 76.5,73.42 77.65,73.15 78.79,72.97 79.94,72.84 81.08,72.79 82.22,72.89 83.37,73.21 84.52,73.82 85.66,74.67 86.81,75.62 87.95,76.54 89.09,77.43 90.24,78.35 91.39,79.25 92.53,80.11 93.68,80.88 94.82,81.6 95.97,82.31 97.11,83.09 98.25,83.94 99.4,84.83 100.55,85.75 101.69,86.66 102.84,87.54 103.98,88.43 105.12,89.32 106.27,90.22 107.41,91.16 108.56,92.12 109.71,93.06 110.85,93.91 112,94.67 113.14,95.36 114.28,96.01 115.43,96.65 116.58,97.27 117.72,97.87 118.87,98.45 120.01,99.03 121.16,99.61 122.3,100.19 123.44,100.75 124.59,101.29 125.74,101.8 126.88,102.3 128.03,102.76 129.17,103.2 130.31,103.59 131.46,103.95 132.6,104.29 133.75,104.62 134.9,104.94 136.04,105.23 137.19,105.52 138.33,105.81 139.47,106.11 140.62,106.42 141.77,106.71 142.91,107 144.06,107.28 145.2,107.55 146.34,107.82 147.49,108.08 148.63,108.32 149.78,108.57 150.93,108.8 152.07,109.03 153.22,109.25 154.36,109.46 155.5,109.66 156.65,109.86 157.8,110.05 158.94,110.24 160.09,110.42 161.23,110.57 162.38,110.72 163.52,110.86 164.66,110.97 165.81,111.05" fill="none" stroke="#0a0ab8" stroke-width="1.3" stroke-linejoin="round"/>
<circle cx="74.21" cy="69.4" r="0.95" fill="#0000cc"/>
<circle cx="69.63" cy="70.59" r="0.95" fill="#0000cc"/>
<circle cx="83.37" cy="65.83" r="0.95" fill="#0000cc"/>
<circle cx="87.95" cy="86.06" r="0.95" fill="#0000cc"/>
<circle cx="101.69" cy="82.49" r="0.95" fill="#0000cc"/>
<circle cx="92.53" cy="87.25" r="0.95" fill="#0000cc"/>
<line x1="90.2" y1="44.6" x2="101.7" y2="44.6" stroke="#8c8ce2" stroke-width="1"/>
<circle cx="106.5" cy="44.6" r="0.9" fill="#8080f4"/>
<text x="108.6" y="47.57" font-size="8.3" text-anchor="start" fill="#222">Basal</text>
<line x1="134.4" y1="44.6" x2="146" y2="44.6" stroke="#0a0ab8" stroke-width="1.3"/>
<circle cx="150.4" cy="44.6" r="1.1" fill="#0000cc"/>
<text x="152.9" y="47.57" font-size="8.3" text-anchor="start" fill="#222">Cu</text>
<text x="31.3" y="171.8" font-size="9.5" font-weight="bold" text-anchor="middle" fill="#111">f</text>
<line x1="51.3" y1="183.8" x2="51.3" y2="280.9" stroke="#333" stroke-width="1"/>
<line x1="47.6" y1="279" x2="51.3" y2="279" stroke="#333" stroke-width="1"/>
<text x="45.6" y="282.54" font-size="8.5" text-anchor="end" fill="#222">0</text>
<line x1="47.6" y1="255.2" x2="51.3" y2="255.2" stroke="#333" stroke-width="1"/>
<text x="45.6" y="258.74" font-size="8.5" text-anchor="end" fill="#222">2</text>
<line x1="47.6" y1="231.4" x2="51.3" y2="231.4" stroke="#333" stroke-width="1"/>
<text x="45.6" y="234.94" font-size="8.5" text-anchor="end" fill="#222">4</text>
<line x1="47.6" y1="207.6" x2="51.3" y2="207.6" stroke="#333" stroke-width="1"/>
<text x="45.6" y="211.14" font-size="8.5" text-anchor="end" fill="#222">6</text>
<line x1="47.6" y1="183.8" x2="51.3" y2="183.8" stroke="#333" stroke-width="1"/>
<text x="45.6" y="187.34" font-size="8.5" text-anchor="end" fill="#222">8</text>
<line x1="51.8" y1="280.9" x2="168.7" y2="280.9" stroke="#8a8a8a" stroke-width="1.9"/>
<line x1="53.6" y1="280.9" x2="53.6" y2="284.4" stroke="#333" stroke-width="1"/>
<text x="53.6" y="294.74" font-size="8.5" text-anchor="middle" fill="#222">0</text>
<line x1="76.5" y1="280.9" x2="76.5" y2="284.4" stroke="#333" stroke-width="1"/>
<text x="76.5" y="294.74" font-size="8.5" text-anchor="middle" fill="#222">10</text>
<line x1="99.4" y1="280.9" x2="99.4" y2="284.4" stroke="#333" stroke-width="1"/>
<text x="99.4" y="294.74" font-size="8.5" text-anchor="middle" fill="#222">20</text>
<line x1="122.3" y1="280.9" x2="122.3" y2="284.4" stroke="#333" stroke-width="1"/>
<text x="122.3" y="294.74" font-size="8.5" text-anchor="middle" fill="#222">30</text>
<line x1="145.2" y1="280.9" x2="145.2" y2="284.4" stroke="#333" stroke-width="1"/>
<text x="145.2" y="294.74" font-size="8.5" text-anchor="middle" fill="#222">40</text>
<line x1="168.1" y1="280.9" x2="168.1" y2="284.4" stroke="#333" stroke-width="1"/>
<text x="168.1" y="294.74" font-size="8.5" text-anchor="middle" fill="#222">50</text>
<text x="110.9" y="305.7" font-size="9.8" text-anchor="middle" fill="#222"><tspan font-style="italic">TNPD</tspan> (nm)</text>
<text transform="translate(31.6,229.4) rotate(-90)" x="0" y="3.3" font-size="9.8" text-anchor="middle" fill="#222"><tspan font-style="italic">PDF</tspan> (×10<tspan font-size="6.8" dy="-3.6">−2</tspan><tspan dy="3.6">)</tspan></text>
<circle cx="55.94" cy="276.54" r="1.05" fill="#ff0000"/>
<circle cx="55.86" cy="275.64" r="1.05" fill="#ff0000"/>
<circle cx="55.96" cy="273.38" r="1.05" fill="#ff0000"/>
<circle cx="55.9" cy="267.84" r="1.05" fill="#ff0000"/>
<circle cx="56.12" cy="265.84" r="1.05" fill="#ff0000"/>
<circle cx="55.73" cy="265.48" r="1.05" fill="#ff0000"/>
<circle cx="60.72" cy="263.34" r="1.05" fill="#ff0000"/>
<circle cx="60.1" cy="262.44" r="1.05" fill="#ff0000"/>
<circle cx="60.84" cy="259.64" r="1.05" fill="#ff0000"/>
<circle cx="60.56" cy="244.07" r="1.05" fill="#ff0000"/>
<circle cx="60.08" cy="242.31" r="1.05" fill="#ff0000"/>
<circle cx="60.12" cy="237.44" r="1.05" fill="#ff0000"/>
<circle cx="64.84" cy="253.5" r="1.05" fill="#ff0000"/>
<circle cx="65.02" cy="246.78" r="1.05" fill="#ff0000"/>
<circle cx="65.32" cy="244.5" r="1.05" fill="#ff0000"/>
<circle cx="65.16" cy="224.1" r="1.05" fill="#ff0000"/>
<circle cx="65.18" cy="219.02" r="1.05" fill="#ff0000"/>
<circle cx="64.87" cy="214.19" r="1.05" fill="#ff0000"/>
<circle cx="70.03" cy="257.15" r="1.05" fill="#ff0000"/>
<circle cx="69.8" cy="246.96" r="1.05" fill="#ff0000"/>
<circle cx="69.41" cy="237.33" r="1.05" fill="#ff0000"/>
<circle cx="69.29" cy="215.26" r="1.05" fill="#ff0000"/>
<circle cx="69.55" cy="206.64" r="1.05" fill="#ff0000"/>
<circle cx="69.54" cy="199.3" r="1.05" fill="#ff0000"/>
<circle cx="74.49" cy="257" r="1.05" fill="#ff0000"/>
<circle cx="73.98" cy="240.86" r="1.05" fill="#ff0000"/>
<circle cx="74.19" cy="240.97" r="1.05" fill="#ff0000"/>
<circle cx="74.13" cy="213.09" r="1.05" fill="#ff0000"/>
<circle cx="74.31" cy="211.94" r="1.05" fill="#ff0000"/>
<circle cx="74.03" cy="200.75" r="1.05" fill="#ff0000"/>
<circle cx="78.66" cy="249.94" r="1.05" fill="#ff0000"/>
<circle cx="79" cy="250.48" r="1.05" fill="#ff0000"/>
<circle cx="78.59" cy="239.64" r="1.05" fill="#ff0000"/>
<circle cx="78.44" cy="220.83" r="1.05" fill="#ff0000"/>
<circle cx="78.53" cy="211.89" r="1.05" fill="#ff0000"/>
<circle cx="78.75" cy="207.64" r="1.05" fill="#ff0000"/>
<circle cx="83.56" cy="253.5" r="1.05" fill="#ff0000"/>
<circle cx="83.48" cy="247.46" r="1.05" fill="#ff0000"/>
<circle cx="83.31" cy="243" r="1.05" fill="#ff0000"/>
<circle cx="83.19" cy="225.2" r="1.05" fill="#ff0000"/>
<circle cx="83.61" cy="216.35" r="1.05" fill="#ff0000"/>
<circle cx="83.68" cy="215.38" r="1.05" fill="#ff0000"/>
<circle cx="87.87" cy="256.91" r="1.05" fill="#ff0000"/>
<circle cx="88.06" cy="255.67" r="1.05" fill="#ff0000"/>
<circle cx="88.34" cy="247.27" r="1.05" fill="#ff0000"/>
<circle cx="87.76" cy="231.39" r="1.05" fill="#ff0000"/>
<circle cx="87.81" cy="224.46" r="1.05" fill="#ff0000"/>
<circle cx="87.61" cy="222.64" r="1.05" fill="#ff0000"/>
<circle cx="92.6" cy="259.25" r="1.05" fill="#ff0000"/>
<circle cx="92.61" cy="255.8" r="1.05" fill="#ff0000"/>
<circle cx="92.49" cy="252.61" r="1.05" fill="#ff0000"/>
<circle cx="92.52" cy="235.44" r="1.05" fill="#ff0000"/>
<circle cx="92.82" cy="232.34" r="1.05" fill="#ff0000"/>
<circle cx="92.25" cy="230.53" r="1.05" fill="#ff0000"/>
<circle cx="97.36" cy="267.81" r="1.05" fill="#ff0000"/>
<circle cx="96.86" cy="259.62" r="1.05" fill="#ff0000"/>
<circle cx="97.46" cy="257.99" r="1.05" fill="#ff0000"/>
<circle cx="97.47" cy="243.8" r="1.05" fill="#ff0000"/>
<circle cx="97.19" cy="238.01" r="1.05" fill="#ff0000"/>
<circle cx="96.79" cy="236.37" r="1.05" fill="#ff0000"/>
<circle cx="102.06" cy="264.9" r="1.05" fill="#ff0000"/>
<circle cx="101.85" cy="262.52" r="1.05" fill="#ff0000"/>
<circle cx="101.95" cy="259.77" r="1.05" fill="#ff0000"/>
<circle cx="101.52" cy="247.73" r="1.05" fill="#ff0000"/>
<circle cx="101.87" cy="245.93" r="1.05" fill="#ff0000"/>
<circle cx="101.47" cy="243.7" r="1.05" fill="#ff0000"/>
<circle cx="106.55" cy="269.63" r="1.05" fill="#ff0000"/>
<circle cx="106.09" cy="266.25" r="1.05" fill="#ff0000"/>
<circle cx="106.03" cy="264.09" r="1.05" fill="#ff0000"/>
<circle cx="106.09" cy="252.8" r="1.05" fill="#ff0000"/>
<circle cx="105.92" cy="249.22" r="1.05" fill="#ff0000"/>
<circle cx="106.17" cy="247.62" r="1.05" fill="#ff0000"/>
<circle cx="110.56" cy="271.1" r="1.05" fill="#ff0000"/>
<circle cx="111.16" cy="267.15" r="1.05" fill="#ff0000"/>
<circle cx="110.98" cy="266.16" r="1.05" fill="#ff0000"/>
<circle cx="110.92" cy="254.59" r="1.05" fill="#ff0000"/>
<circle cx="110.48" cy="253.4" r="1.05" fill="#ff0000"/>
<circle cx="111.18" cy="251.69" r="1.05" fill="#ff0000"/>
<circle cx="115.8" cy="272.73" r="1.05" fill="#ff0000"/>
<circle cx="115.54" cy="267.52" r="1.05" fill="#ff0000"/>
<circle cx="115.61" cy="266.6" r="1.05" fill="#ff0000"/>
<circle cx="115.83" cy="257.6" r="1.05" fill="#ff0000"/>
<circle cx="115.47" cy="256.06" r="1.05" fill="#ff0000"/>
<circle cx="115.75" cy="251.81" r="1.05" fill="#ff0000"/>
<circle cx="120.17" cy="273.66" r="1.05" fill="#ff0000"/>
<circle cx="120.34" cy="270.84" r="1.05" fill="#ff0000"/>
<circle cx="120.16" cy="267.54" r="1.05" fill="#ff0000"/>
<circle cx="120.31" cy="258.51" r="1.05" fill="#ff0000"/>
<circle cx="120.24" cy="257.14" r="1.05" fill="#ff0000"/>
<circle cx="120.07" cy="253.58" r="1.05" fill="#ff0000"/>
<circle cx="124.5" cy="274.04" r="1.05" fill="#ff0000"/>
<circle cx="124.68" cy="271.27" r="1.05" fill="#ff0000"/>
<circle cx="124.7" cy="268.27" r="1.05" fill="#ff0000"/>
<circle cx="124.89" cy="260.24" r="1.05" fill="#ff0000"/>
<circle cx="124.5" cy="258.41" r="1.05" fill="#ff0000"/>
<circle cx="124.65" cy="256.18" r="1.05" fill="#ff0000"/>
<circle cx="129.44" cy="274.04" r="1.05" fill="#ff0000"/>
<circle cx="129.37" cy="270.83" r="1.05" fill="#ff0000"/>
<circle cx="129.25" cy="269.15" r="1.05" fill="#ff0000"/>
<circle cx="128.95" cy="262.37" r="1.05" fill="#ff0000"/>
<circle cx="129.17" cy="260.02" r="1.05" fill="#ff0000"/>
<circle cx="129.51" cy="258.2" r="1.05" fill="#ff0000"/>
<circle cx="133.36" cy="274.04" r="1.05" fill="#ff0000"/>
<circle cx="133.89" cy="272.12" r="1.05" fill="#ff0000"/>
<circle cx="133.49" cy="270.31" r="1.05" fill="#ff0000"/>
<circle cx="133.88" cy="263.09" r="1.05" fill="#ff0000"/>
<circle cx="134.06" cy="261.92" r="1.05" fill="#ff0000"/>
<circle cx="133.88" cy="260.47" r="1.05" fill="#ff0000"/>
<circle cx="138.27" cy="274.43" r="1.05" fill="#ff0000"/>
<circle cx="138.66" cy="273.9" r="1.05" fill="#ff0000"/>
<circle cx="138.24" cy="272.11" r="1.05" fill="#ff0000"/>
<circle cx="138.18" cy="264.62" r="1.05" fill="#ff0000"/>
<circle cx="138.33" cy="263.7" r="1.05" fill="#ff0000"/>
<circle cx="138.61" cy="260.45" r="1.05" fill="#ff0000"/>
<circle cx="143.27" cy="276.43" r="1.05" fill="#ff0000"/>
<circle cx="142.65" cy="273.32" r="1.05" fill="#ff0000"/>
<circle cx="142.73" cy="272.1" r="1.05" fill="#ff0000"/>
<circle cx="142.84" cy="266.02" r="1.05" fill="#ff0000"/>
<circle cx="142.91" cy="263.85" r="1.05" fill="#ff0000"/>
<circle cx="143.18" cy="262.91" r="1.05" fill="#ff0000"/>
<circle cx="147.45" cy="277.6" r="1.05" fill="#ff0000"/>
<circle cx="147.12" cy="273.5" r="1.05" fill="#ff0000"/>
<circle cx="147.12" cy="273.33" r="1.05" fill="#ff0000"/>
<circle cx="147.55" cy="266.45" r="1.05" fill="#ff0000"/>
<circle cx="147.72" cy="265.46" r="1.05" fill="#ff0000"/>
<circle cx="147.2" cy="264.71" r="1.05" fill="#ff0000"/>
<circle cx="151.69" cy="276.54" r="1.05" fill="#ff0000"/>
<circle cx="151.86" cy="275.46" r="1.05" fill="#ff0000"/>
<circle cx="151.71" cy="272.9" r="1.05" fill="#ff0000"/>
<circle cx="152.03" cy="267.38" r="1.05" fill="#ff0000"/>
<circle cx="152.19" cy="265.84" r="1.05" fill="#ff0000"/>
<circle cx="152.44" cy="263.91" r="1.05" fill="#ff0000"/>
<circle cx="156.41" cy="277.52" r="1.05" fill="#ff0000"/>
<circle cx="156.39" cy="275.27" r="1.05" fill="#ff0000"/>
<circle cx="156.63" cy="273.31" r="1.05" fill="#ff0000"/>
<circle cx="156.39" cy="268.14" r="1.05" fill="#ff0000"/>
<circle cx="156.53" cy="267.31" r="1.05" fill="#ff0000"/>
<circle cx="156.67" cy="265.16" r="1.05" fill="#ff0000"/>
<circle cx="161.43" cy="277.66" r="1.05" fill="#ff0000"/>
<circle cx="161.46" cy="275.53" r="1.05" fill="#ff0000"/>
<circle cx="160.9" cy="274.87" r="1.05" fill="#ff0000"/>
<circle cx="161.41" cy="268.65" r="1.05" fill="#ff0000"/>
<circle cx="161.19" cy="268.26" r="1.05" fill="#ff0000"/>
<circle cx="161.56" cy="266.14" r="1.05" fill="#ff0000"/>
<circle cx="165.87" cy="277.36" r="1.05" fill="#ff0000"/>
<circle cx="166.05" cy="276.67" r="1.05" fill="#ff0000"/>
<circle cx="165.78" cy="275.27" r="1.05" fill="#ff0000"/>
<circle cx="165.57" cy="269.47" r="1.05" fill="#ff0000"/>
<circle cx="166.06" cy="268.01" r="1.05" fill="#ff0000"/>
<circle cx="165.98" cy="266.77" r="1.05" fill="#ff0000"/>
<line x1="55.89" y1="268.98" x2="55.89" y2="271.17" stroke="#ff0000" stroke-width="0.9"/>
<line x1="54.09" y1="268.98" x2="57.69" y2="268.98" stroke="#ff0000" stroke-width="0.9"/>
<line x1="54.09" y1="271.17" x2="57.69" y2="271.17" stroke="#ff0000" stroke-width="0.9"/>
<line x1="60.47" y1="247.87" x2="60.47" y2="253.01" stroke="#ff0000" stroke-width="0.9"/>
<line x1="58.67" y1="247.87" x2="62.27" y2="247.87" stroke="#ff0000" stroke-width="0.9"/>
<line x1="58.67" y1="253.01" x2="62.27" y2="253.01" stroke="#ff0000" stroke-width="0.9"/>
<line x1="65.05" y1="229.32" x2="65.05" y2="237.05" stroke="#ff0000" stroke-width="0.9"/>
<line x1="63.25" y1="229.32" x2="66.85" y2="229.32" stroke="#ff0000" stroke-width="0.9"/>
<line x1="63.25" y1="237.05" x2="66.85" y2="237.05" stroke="#ff0000" stroke-width="0.9"/>
<line x1="69.63" y1="220.37" x2="69.63" y2="229.34" stroke="#ff0000" stroke-width="0.9"/>
<line x1="67.83" y1="220.37" x2="71.43" y2="220.37" stroke="#ff0000" stroke-width="0.9"/>
<line x1="67.83" y1="229.34" x2="71.43" y2="229.34" stroke="#ff0000" stroke-width="0.9"/>
<line x1="74.21" y1="221.01" x2="74.21" y2="229.89" stroke="#ff0000" stroke-width="0.9"/>
<line x1="72.41" y1="221.01" x2="76.01" y2="221.01" stroke="#ff0000" stroke-width="0.9"/>
<line x1="72.41" y1="229.89" x2="76.01" y2="229.89" stroke="#ff0000" stroke-width="0.9"/>
<line x1="78.79" y1="224.84" x2="78.79" y2="233.2" stroke="#ff0000" stroke-width="0.9"/>
<line x1="76.99" y1="224.84" x2="80.59" y2="224.84" stroke="#ff0000" stroke-width="0.9"/>
<line x1="76.99" y1="233.2" x2="80.59" y2="233.2" stroke="#ff0000" stroke-width="0.9"/>
<line x1="83.37" y1="229.32" x2="83.37" y2="237.05" stroke="#ff0000" stroke-width="0.9"/>
<line x1="81.57" y1="229.32" x2="85.17" y2="229.32" stroke="#ff0000" stroke-width="0.9"/>
<line x1="81.57" y1="237.05" x2="85.17" y2="237.05" stroke="#ff0000" stroke-width="0.9"/>
<line x1="87.95" y1="235.08" x2="87.95" y2="242" stroke="#ff0000" stroke-width="0.9"/>
<line x1="86.15" y1="235.08" x2="89.75" y2="235.08" stroke="#ff0000" stroke-width="0.9"/>
<line x1="86.15" y1="242" x2="89.75" y2="242" stroke="#ff0000" stroke-width="0.9"/>
<line x1="92.53" y1="240.83" x2="92.53" y2="246.96" stroke="#ff0000" stroke-width="0.9"/>
<line x1="90.73" y1="240.83" x2="94.33" y2="240.83" stroke="#ff0000" stroke-width="0.9"/>
<line x1="90.73" y1="246.96" x2="94.33" y2="246.96" stroke="#ff0000" stroke-width="0.9"/>
<line x1="97.11" y1="246.59" x2="97.11" y2="251.91" stroke="#ff0000" stroke-width="0.9"/>
<line x1="95.31" y1="246.59" x2="98.91" y2="246.59" stroke="#ff0000" stroke-width="0.9"/>
<line x1="95.31" y1="251.91" x2="98.91" y2="251.91" stroke="#ff0000" stroke-width="0.9"/>
<line x1="101.69" y1="251.07" x2="101.69" y2="255.76" stroke="#ff0000" stroke-width="0.9"/>
<line x1="99.89" y1="251.07" x2="103.49" y2="251.07" stroke="#ff0000" stroke-width="0.9"/>
<line x1="99.89" y1="255.76" x2="103.49" y2="255.76" stroke="#ff0000" stroke-width="0.9"/>
<line x1="106.27" y1="254.65" x2="106.27" y2="258.84" stroke="#ff0000" stroke-width="0.9"/>
<line x1="104.47" y1="254.65" x2="108.07" y2="254.65" stroke="#ff0000" stroke-width="0.9"/>
<line x1="104.47" y1="258.84" x2="108.07" y2="258.84" stroke="#ff0000" stroke-width="0.9"/>
<line x1="110.85" y1="257.46" x2="110.85" y2="261.27" stroke="#ff0000" stroke-width="0.9"/>
<line x1="109.05" y1="257.46" x2="112.65" y2="257.46" stroke="#ff0000" stroke-width="0.9"/>
<line x1="109.05" y1="261.27" x2="112.65" y2="261.27" stroke="#ff0000" stroke-width="0.9"/>
<line x1="115.43" y1="259.64" x2="115.43" y2="263.14" stroke="#ff0000" stroke-width="0.9"/>
<line x1="113.63" y1="259.64" x2="117.23" y2="259.64" stroke="#ff0000" stroke-width="0.9"/>
<line x1="113.63" y1="263.14" x2="117.23" y2="263.14" stroke="#ff0000" stroke-width="0.9"/>
<line x1="120.01" y1="261.3" x2="120.01" y2="264.57" stroke="#ff0000" stroke-width="0.9"/>
<line x1="118.21" y1="261.3" x2="121.81" y2="261.3" stroke="#ff0000" stroke-width="0.9"/>
<line x1="118.21" y1="264.57" x2="121.81" y2="264.57" stroke="#ff0000" stroke-width="0.9"/>
<line x1="124.59" y1="262.96" x2="124.59" y2="266" stroke="#ff0000" stroke-width="0.9"/>
<line x1="122.79" y1="262.96" x2="126.39" y2="262.96" stroke="#ff0000" stroke-width="0.9"/>
<line x1="122.79" y1="266" x2="126.39" y2="266" stroke="#ff0000" stroke-width="0.9"/>
<line x1="129.17" y1="264.24" x2="129.17" y2="267.1" stroke="#ff0000" stroke-width="0.9"/>
<line x1="127.37" y1="264.24" x2="130.97" y2="264.24" stroke="#ff0000" stroke-width="0.9"/>
<line x1="127.37" y1="267.1" x2="130.97" y2="267.1" stroke="#ff0000" stroke-width="0.9"/>
<line x1="133.75" y1="265.4" x2="133.75" y2="268.09" stroke="#ff0000" stroke-width="0.9"/>
<line x1="131.95" y1="265.4" x2="135.55" y2="265.4" stroke="#ff0000" stroke-width="0.9"/>
<line x1="131.95" y1="268.09" x2="135.55" y2="268.09" stroke="#ff0000" stroke-width="0.9"/>
<line x1="138.33" y1="266.42" x2="138.33" y2="268.97" stroke="#ff0000" stroke-width="0.9"/>
<line x1="136.53" y1="266.42" x2="140.13" y2="266.42" stroke="#ff0000" stroke-width="0.9"/>
<line x1="136.53" y1="268.97" x2="140.13" y2="268.97" stroke="#ff0000" stroke-width="0.9"/>
<line x1="142.91" y1="267.31" x2="142.91" y2="269.74" stroke="#ff0000" stroke-width="0.9"/>
<line x1="141.11" y1="267.31" x2="144.71" y2="267.31" stroke="#ff0000" stroke-width="0.9"/>
<line x1="141.11" y1="269.74" x2="144.71" y2="269.74" stroke="#ff0000" stroke-width="0.9"/>
<line x1="147.49" y1="268.21" x2="147.49" y2="270.51" stroke="#ff0000" stroke-width="0.9"/>
<line x1="145.69" y1="268.21" x2="149.29" y2="268.21" stroke="#ff0000" stroke-width="0.9"/>
<line x1="145.69" y1="270.51" x2="149.29" y2="270.51" stroke="#ff0000" stroke-width="0.9"/>
<line x1="152.07" y1="268.98" x2="152.07" y2="271.17" stroke="#ff0000" stroke-width="0.9"/>
<line x1="150.27" y1="268.98" x2="153.87" y2="268.98" stroke="#ff0000" stroke-width="0.9"/>
<line x1="150.27" y1="271.17" x2="153.87" y2="271.17" stroke="#ff0000" stroke-width="0.9"/>
<line x1="156.65" y1="269.74" x2="156.65" y2="271.83" stroke="#ff0000" stroke-width="0.9"/>
<line x1="154.85" y1="269.74" x2="158.45" y2="269.74" stroke="#ff0000" stroke-width="0.9"/>
<line x1="154.85" y1="271.83" x2="158.45" y2="271.83" stroke="#ff0000" stroke-width="0.9"/>
<line x1="161.23" y1="270.38" x2="161.23" y2="272.38" stroke="#ff0000" stroke-width="0.9"/>
<line x1="159.43" y1="270.38" x2="163.03" y2="270.38" stroke="#ff0000" stroke-width="0.9"/>
<line x1="159.43" y1="272.38" x2="163.03" y2="272.38" stroke="#ff0000" stroke-width="0.9"/>
<line x1="165.81" y1="270.9" x2="165.81" y2="272.82" stroke="#ff0000" stroke-width="0.9"/>
<line x1="164.01" y1="270.9" x2="167.61" y2="270.9" stroke="#ff0000" stroke-width="0.9"/>
<line x1="164.01" y1="272.82" x2="167.61" y2="272.82" stroke="#ff0000" stroke-width="0.9"/>
<polyline points="55.89,270.07 57.04,266.49 58.18,261.34 59.33,255.64 60.47,250.44 61.62,245.75 62.76,241.11 63.91,236.82 65.05,233.19 66.2,230.27 67.34,227.9 68.48,226.1 69.63,224.86 70.78,224.31 71.92,224.41 73.06,224.88 74.21,225.45 75.36,226.12 76.5,227.01 77.65,228.02 78.79,229.02 79.94,229.99 81.08,230.99 82.22,232.05 83.37,233.19 84.52,234.44 85.66,235.79 86.81,237.17 87.95,238.54 89.09,239.88 90.24,241.22 91.39,242.56 92.53,243.89 93.68,245.26 94.82,246.65 95.97,247.99 97.11,249.25 98.25,250.39 99.4,251.46 100.55,252.46 101.69,253.41 102.84,254.32 103.98,255.18 105.12,255.98 106.27,256.75 107.41,257.47 108.56,258.14 109.71,258.77 110.85,259.37 112,259.92 113.14,260.44 114.28,260.93 115.43,261.39 116.58,261.81 117.72,262.19 118.87,262.56 120.01,262.94 121.16,263.33 122.3,263.73 123.44,264.12 124.59,264.48 125.74,264.81 126.88,265.11 128.03,265.39 129.17,265.67 130.31,265.95 131.46,266.22 132.6,266.49 133.75,266.74 134.9,266.99 136.04,267.23 137.19,267.47 138.33,267.69 139.47,267.91 140.62,268.12 141.77,268.32 142.91,268.53 144.06,268.74 145.2,268.95 146.34,269.16 147.49,269.36 148.63,269.55 149.78,269.73 150.93,269.9 152.07,270.07 153.22,270.26 154.36,270.44 155.5,270.62 156.65,270.79 157.8,270.95 158.94,271.1 160.09,271.25 161.23,271.38 162.38,271.52 163.52,271.66 164.66,271.78 165.81,271.86" fill="none" stroke="#ff2020" stroke-width="1.3" stroke-linejoin="round"/>
<circle cx="56.21" cy="271.65" r="0.95" fill="#ff9a9a"/>
<circle cx="56.27" cy="271.8" r="0.95" fill="#ff9a9a"/>
<circle cx="56.12" cy="268.74" r="0.95" fill="#ff9a9a"/>
<circle cx="56.22" cy="266.74" r="0.95" fill="#ff9a9a"/>
<circle cx="55.77" cy="263.77" r="0.95" fill="#ff9a9a"/>
<circle cx="55.84" cy="263.68" r="0.95" fill="#ff9a9a"/>
<circle cx="60.68" cy="258.35" r="0.95" fill="#ff9a9a"/>
<circle cx="60.09" cy="255.78" r="0.95" fill="#ff9a9a"/>
<circle cx="60.12" cy="250.68" r="0.95" fill="#ff9a9a"/>
<circle cx="60.21" cy="245.45" r="0.95" fill="#ff9a9a"/>
<circle cx="60.7" cy="240.81" r="0.95" fill="#ff9a9a"/>
<circle cx="60.19" cy="238.76" r="0.95" fill="#ff9a9a"/>
<circle cx="65.23" cy="248.04" r="0.95" fill="#ff9a9a"/>
<circle cx="65.2" cy="246.16" r="0.95" fill="#ff9a9a"/>
<circle cx="65.04" cy="237.63" r="0.95" fill="#ff9a9a"/>
<circle cx="64.72" cy="229.92" r="0.95" fill="#ff9a9a"/>
<circle cx="65.07" cy="224.09" r="0.95" fill="#ff9a9a"/>
<circle cx="65.23" cy="219.8" r="0.95" fill="#ff9a9a"/>
<circle cx="69.65" cy="243.75" r="0.95" fill="#ff9a9a"/>
<circle cx="69.68" cy="240.83" r="0.95" fill="#ff9a9a"/>
<circle cx="69.53" cy="230.1" r="0.95" fill="#ff9a9a"/>
<circle cx="69.95" cy="222.38" r="0.95" fill="#ff9a9a"/>
<circle cx="69.91" cy="215.62" r="0.95" fill="#ff9a9a"/>
<circle cx="69.65" cy="205.91" r="0.95" fill="#ff9a9a"/>
<circle cx="73.97" cy="242.91" r="0.95" fill="#ff9a9a"/>
<circle cx="74.21" cy="238.83" r="0.95" fill="#ff9a9a"/>
<circle cx="73.83" cy="229.98" r="0.95" fill="#ff9a9a"/>
<circle cx="74.22" cy="221.55" r="0.95" fill="#ff9a9a"/>
<circle cx="74.45" cy="213.94" r="0.95" fill="#ff9a9a"/>
<circle cx="74.2" cy="207.96" r="0.95" fill="#ff9a9a"/>
<circle cx="78.44" cy="245.74" r="0.95" fill="#ff9a9a"/>
<circle cx="78.72" cy="241.15" r="0.95" fill="#ff9a9a"/>
<circle cx="79.13" cy="233.26" r="0.95" fill="#ff9a9a"/>
<circle cx="78.77" cy="225.77" r="0.95" fill="#ff9a9a"/>
<circle cx="78.74" cy="218.86" r="0.95" fill="#ff9a9a"/>
<circle cx="79.11" cy="210.18" r="0.95" fill="#ff9a9a"/>
<circle cx="83.22" cy="247.39" r="0.95" fill="#ff9a9a"/>
<circle cx="83.46" cy="242.85" r="0.95" fill="#ff9a9a"/>
<circle cx="83.07" cy="237.06" r="0.95" fill="#ff9a9a"/>
<circle cx="82.99" cy="229.51" r="0.95" fill="#ff9a9a"/>
<circle cx="83.15" cy="223.5" r="0.95" fill="#ff9a9a"/>
<circle cx="83.23" cy="216.59" r="0.95" fill="#ff9a9a"/>
<circle cx="88.05" cy="250.43" r="0.95" fill="#ff9a9a"/>
<circle cx="88.13" cy="246.64" r="0.95" fill="#ff9a9a"/>
<circle cx="87.96" cy="240.83" r="0.95" fill="#ff9a9a"/>
<circle cx="87.71" cy="235.63" r="0.95" fill="#ff9a9a"/>
<circle cx="87.9" cy="228.28" r="0.95" fill="#ff9a9a"/>
<circle cx="87.88" cy="225.12" r="0.95" fill="#ff9a9a"/>
<circle cx="92.26" cy="255.05" r="0.95" fill="#ff9a9a"/>
<circle cx="92.64" cy="251.26" r="0.95" fill="#ff9a9a"/>
<circle cx="92.55" cy="246.31" r="0.95" fill="#ff9a9a"/>
<circle cx="92.62" cy="240.54" r="0.95" fill="#ff9a9a"/>
<circle cx="92.32" cy="233.54" r="0.95" fill="#ff9a9a"/>
<circle cx="92.78" cy="230.1" r="0.95" fill="#ff9a9a"/>
<circle cx="96.96" cy="260.17" r="0.95" fill="#ff9a9a"/>
<circle cx="97.45" cy="255.72" r="0.95" fill="#ff9a9a"/>
<circle cx="97.51" cy="250.69" r="0.95" fill="#ff9a9a"/>
<circle cx="96.82" cy="246.01" r="0.95" fill="#ff9a9a"/>
<circle cx="97.29" cy="241.82" r="0.95" fill="#ff9a9a"/>
<circle cx="96.79" cy="239" r="0.95" fill="#ff9a9a"/>
<circle cx="101.63" cy="263.11" r="0.95" fill="#ff9a9a"/>
<circle cx="101.39" cy="260.76" r="0.95" fill="#ff9a9a"/>
<circle cx="101.84" cy="255.31" r="0.95" fill="#ff9a9a"/>
<circle cx="101.45" cy="251.82" r="0.95" fill="#ff9a9a"/>
<circle cx="102.02" cy="246.35" r="0.95" fill="#ff9a9a"/>
<circle cx="101.38" cy="242.48" r="0.95" fill="#ff9a9a"/>
<circle cx="106.48" cy="264.79" r="0.95" fill="#ff9a9a"/>
<circle cx="106.42" cy="263.07" r="0.95" fill="#ff9a9a"/>
<circle cx="105.93" cy="258.84" r="0.95" fill="#ff9a9a"/>
<circle cx="105.9" cy="255.9" r="0.95" fill="#ff9a9a"/>
<circle cx="106.28" cy="251.51" r="0.95" fill="#ff9a9a"/>
<circle cx="105.99" cy="249.12" r="0.95" fill="#ff9a9a"/>
<circle cx="110.61" cy="266.25" r="0.95" fill="#ff9a9a"/>
<circle cx="111.24" cy="266.25" r="0.95" fill="#ff9a9a"/>
<circle cx="110.53" cy="262.31" r="0.95" fill="#ff9a9a"/>
<circle cx="111.21" cy="259.32" r="0.95" fill="#ff9a9a"/>
<circle cx="111.06" cy="255.62" r="0.95" fill="#ff9a9a"/>
<circle cx="110.82" cy="254.03" r="0.95" fill="#ff9a9a"/>
<circle cx="115.37" cy="268.97" r="0.95" fill="#ff9a9a"/>
<circle cx="115.04" cy="267.79" r="0.95" fill="#ff9a9a"/>
<circle cx="115.71" cy="264.61" r="0.95" fill="#ff9a9a"/>
<circle cx="115.39" cy="262.01" r="0.95" fill="#ff9a9a"/>
<circle cx="115.35" cy="258.31" r="0.95" fill="#ff9a9a"/>
<circle cx="115.16" cy="257.72" r="0.95" fill="#ff9a9a"/>
<circle cx="119.62" cy="270.49" r="0.95" fill="#ff9a9a"/>
<circle cx="120.25" cy="269.9" r="0.95" fill="#ff9a9a"/>
<circle cx="120.3" cy="266.6" r="0.95" fill="#ff9a9a"/>
<circle cx="119.93" cy="264.06" r="0.95" fill="#ff9a9a"/>
<circle cx="120.01" cy="261.19" r="0.95" fill="#ff9a9a"/>
<circle cx="120.25" cy="258.7" r="0.95" fill="#ff9a9a"/>
<circle cx="124.92" cy="271.29" r="0.95" fill="#ff9a9a"/>
<circle cx="124.81" cy="271.02" r="0.95" fill="#ff9a9a"/>
<circle cx="124.51" cy="268.31" r="0.95" fill="#ff9a9a"/>
<circle cx="124.89" cy="265.86" r="0.95" fill="#ff9a9a"/>
<circle cx="124.8" cy="263.25" r="0.95" fill="#ff9a9a"/>
<circle cx="124.51" cy="261.57" r="0.95" fill="#ff9a9a"/>
<circle cx="128.83" cy="272.97" r="0.95" fill="#ff9a9a"/>
<circle cx="129.15" cy="271.39" r="0.95" fill="#ff9a9a"/>
<circle cx="129.05" cy="269.09" r="0.95" fill="#ff9a9a"/>
<circle cx="129.27" cy="267.24" r="0.95" fill="#ff9a9a"/>
<circle cx="129.53" cy="265.34" r="0.95" fill="#ff9a9a"/>
<circle cx="129.04" cy="263.35" r="0.95" fill="#ff9a9a"/>
<circle cx="133.81" cy="273.69" r="0.95" fill="#ff9a9a"/>
<circle cx="133.66" cy="272.57" r="0.95" fill="#ff9a9a"/>
<circle cx="133.86" cy="270.58" r="0.95" fill="#ff9a9a"/>
<circle cx="133.96" cy="268.49" r="0.95" fill="#ff9a9a"/>
<circle cx="133.37" cy="265.85" r="0.95" fill="#ff9a9a"/>
<circle cx="133.94" cy="265.02" r="0.95" fill="#ff9a9a"/>
<circle cx="138.25" cy="273.85" r="0.95" fill="#ff9a9a"/>
<circle cx="138.09" cy="272.86" r="0.95" fill="#ff9a9a"/>
<circle cx="138.01" cy="271.35" r="0.95" fill="#ff9a9a"/>
<circle cx="138.65" cy="269.79" r="0.95" fill="#ff9a9a"/>
<circle cx="138.34" cy="267.68" r="0.95" fill="#ff9a9a"/>
<circle cx="138.38" cy="265.88" r="0.95" fill="#ff9a9a"/>
<circle cx="143.02" cy="275.55" r="0.95" fill="#ff9a9a"/>
<circle cx="142.57" cy="274.43" r="0.95" fill="#ff9a9a"/>
<circle cx="143.12" cy="272.31" r="0.95" fill="#ff9a9a"/>
<circle cx="143.25" cy="270.86" r="0.95" fill="#ff9a9a"/>
<circle cx="142.89" cy="269.26" r="0.95" fill="#ff9a9a"/>
<circle cx="142.91" cy="268.34" r="0.95" fill="#ff9a9a"/>
<circle cx="147.14" cy="275.62" r="0.95" fill="#ff9a9a"/>
<circle cx="147.43" cy="275.18" r="0.95" fill="#ff9a9a"/>
<circle cx="147.57" cy="273.07" r="0.95" fill="#ff9a9a"/>
<circle cx="147.32" cy="271.65" r="0.95" fill="#ff9a9a"/>
<circle cx="147.54" cy="269.77" r="0.95" fill="#ff9a9a"/>
<circle cx="147.66" cy="269.24" r="0.95" fill="#ff9a9a"/>
<circle cx="151.68" cy="275.75" r="0.95" fill="#ff9a9a"/>
<circle cx="151.7" cy="275.08" r="0.95" fill="#ff9a9a"/>
<circle cx="152.27" cy="273.64" r="0.95" fill="#ff9a9a"/>
<circle cx="152.39" cy="272.4" r="0.95" fill="#ff9a9a"/>
<circle cx="151.71" cy="270.56" r="0.95" fill="#ff9a9a"/>
<circle cx="152.43" cy="269.27" r="0.95" fill="#ff9a9a"/>
<circle cx="156.97" cy="275.94" r="0.95" fill="#ff9a9a"/>
<circle cx="156.63" cy="275.72" r="0.95" fill="#ff9a9a"/>
<circle cx="156.44" cy="274.4" r="0.95" fill="#ff9a9a"/>
<circle cx="157" cy="273" r="0.95" fill="#ff9a9a"/>
<circle cx="156.62" cy="271.33" r="0.95" fill="#ff9a9a"/>
<circle cx="156.9" cy="270.09" r="0.95" fill="#ff9a9a"/>
<circle cx="160.92" cy="276.78" r="0.95" fill="#ff9a9a"/>
<circle cx="161.19" cy="276.16" r="0.95" fill="#ff9a9a"/>
<circle cx="160.87" cy="274.54" r="0.95" fill="#ff9a9a"/>
<circle cx="160.93" cy="273.38" r="0.95" fill="#ff9a9a"/>
<circle cx="161.36" cy="272" r="0.95" fill="#ff9a9a"/>
<circle cx="161.04" cy="271.18" r="0.95" fill="#ff9a9a"/>
<circle cx="165.75" cy="276.92" r="0.95" fill="#ff9a9a"/>
<circle cx="165.83" cy="276.46" r="0.95" fill="#ff9a9a"/>
<circle cx="166.17" cy="274.96" r="0.95" fill="#ff9a9a"/>
<circle cx="165.6" cy="273.58" r="0.95" fill="#ff9a9a"/>
<circle cx="166.12" cy="272.55" r="0.95" fill="#ff9a9a"/>
<circle cx="165.91" cy="271.12" r="0.95" fill="#ff9a9a"/>
<line x1="55.89" y1="265.63" x2="55.89" y2="269.76" stroke="#ff9a9a" stroke-width="0.9"/>
<line x1="53.69" y1="265.63" x2="58.09" y2="265.63" stroke="#ff9a9a" stroke-width="0.9"/>
<line x1="53.69" y1="269.76" x2="58.09" y2="269.76" stroke="#ff9a9a" stroke-width="0.9"/>
<line x1="60.47" y1="243.4" x2="60.47" y2="252.72" stroke="#ff9a9a" stroke-width="0.9"/>
<line x1="58.27" y1="243.4" x2="62.67" y2="243.4" stroke="#ff9a9a" stroke-width="0.9"/>
<line x1="58.27" y1="252.72" x2="62.67" y2="252.72" stroke="#ff9a9a" stroke-width="0.9"/>
<line x1="65.05" y1="227.24" x2="65.05" y2="240.32" stroke="#ff9a9a" stroke-width="0.9"/>
<line x1="62.85" y1="227.24" x2="67.25" y2="227.24" stroke="#ff9a9a" stroke-width="0.9"/>
<line x1="62.85" y1="240.32" x2="67.25" y2="240.32" stroke="#ff9a9a" stroke-width="0.9"/>
<line x1="69.63" y1="219.16" x2="69.63" y2="234.12" stroke="#ff9a9a" stroke-width="0.9"/>
<line x1="67.43" y1="219.16" x2="71.83" y2="219.16" stroke="#ff9a9a" stroke-width="0.9"/>
<line x1="67.43" y1="234.12" x2="71.83" y2="234.12" stroke="#ff9a9a" stroke-width="0.9"/>
<line x1="74.21" y1="218.48" x2="74.21" y2="233.61" stroke="#ff9a9a" stroke-width="0.9"/>
<line x1="72.01" y1="218.48" x2="76.41" y2="218.48" stroke="#ff9a9a" stroke-width="0.9"/>
<line x1="72.01" y1="233.61" x2="76.41" y2="233.61" stroke="#ff9a9a" stroke-width="0.9"/>
<line x1="78.79" y1="221.85" x2="78.79" y2="236.19" stroke="#ff9a9a" stroke-width="0.9"/>
<line x1="76.59" y1="221.85" x2="80.99" y2="221.85" stroke="#ff9a9a" stroke-width="0.9"/>
<line x1="76.59" y1="236.19" x2="80.99" y2="236.19" stroke="#ff9a9a" stroke-width="0.9"/>
<line x1="83.37" y1="226.57" x2="83.37" y2="239.8" stroke="#ff9a9a" stroke-width="0.9"/>
<line x1="81.17" y1="226.57" x2="85.57" y2="226.57" stroke="#ff9a9a" stroke-width="0.9"/>
<line x1="81.17" y1="239.8" x2="85.57" y2="239.8" stroke="#ff9a9a" stroke-width="0.9"/>
<line x1="87.95" y1="232.36" x2="87.95" y2="244.25" stroke="#ff9a9a" stroke-width="0.9"/>
<line x1="85.75" y1="232.36" x2="90.15" y2="232.36" stroke="#ff9a9a" stroke-width="0.9"/>
<line x1="85.75" y1="244.25" x2="90.15" y2="244.25" stroke="#ff9a9a" stroke-width="0.9"/>
<line x1="92.53" y1="238.29" x2="92.53" y2="248.79" stroke="#ff9a9a" stroke-width="0.9"/>
<line x1="90.33" y1="238.29" x2="94.73" y2="238.29" stroke="#ff9a9a" stroke-width="0.9"/>
<line x1="90.33" y1="248.79" x2="94.73" y2="248.79" stroke="#ff9a9a" stroke-width="0.9"/>
<line x1="97.11" y1="244.08" x2="97.11" y2="253.23" stroke="#ff9a9a" stroke-width="0.9"/>
<line x1="94.91" y1="244.08" x2="99.31" y2="244.08" stroke="#ff9a9a" stroke-width="0.9"/>
<line x1="94.91" y1="253.23" x2="99.31" y2="253.23" stroke="#ff9a9a" stroke-width="0.9"/>
<line x1="101.69" y1="249.47" x2="101.69" y2="257.36" stroke="#ff9a9a" stroke-width="0.9"/>
<line x1="99.49" y1="249.47" x2="103.89" y2="249.47" stroke="#ff9a9a" stroke-width="0.9"/>
<line x1="99.49" y1="257.36" x2="103.89" y2="257.36" stroke="#ff9a9a" stroke-width="0.9"/>
<line x1="106.27" y1="253.91" x2="106.27" y2="260.77" stroke="#ff9a9a" stroke-width="0.9"/>
<line x1="104.07" y1="253.91" x2="108.47" y2="253.91" stroke="#ff9a9a" stroke-width="0.9"/>
<line x1="104.07" y1="260.77" x2="108.47" y2="260.77" stroke="#ff9a9a" stroke-width="0.9"/>
<line x1="110.85" y1="257.55" x2="110.85" y2="263.56" stroke="#ff9a9a" stroke-width="0.9"/>
<line x1="108.65" y1="257.55" x2="113.05" y2="257.55" stroke="#ff9a9a" stroke-width="0.9"/>
<line x1="108.65" y1="263.56" x2="113.05" y2="263.56" stroke="#ff9a9a" stroke-width="0.9"/>
<line x1="115.43" y1="260.51" x2="115.43" y2="265.83" stroke="#ff9a9a" stroke-width="0.9"/>
<line x1="113.23" y1="260.51" x2="117.63" y2="260.51" stroke="#ff9a9a" stroke-width="0.9"/>
<line x1="113.23" y1="265.83" x2="117.63" y2="265.83" stroke="#ff9a9a" stroke-width="0.9"/>
<line x1="120.01" y1="262.94" x2="120.01" y2="267.69" stroke="#ff9a9a" stroke-width="0.9"/>
<line x1="117.81" y1="262.94" x2="122.21" y2="262.94" stroke="#ff9a9a" stroke-width="0.9"/>
<line x1="117.81" y1="267.69" x2="122.21" y2="267.69" stroke="#ff9a9a" stroke-width="0.9"/>
<line x1="124.59" y1="264.96" x2="124.59" y2="269.24" stroke="#ff9a9a" stroke-width="0.9"/>
<line x1="122.39" y1="264.96" x2="126.79" y2="264.96" stroke="#ff9a9a" stroke-width="0.9"/>
<line x1="122.39" y1="269.24" x2="126.79" y2="269.24" stroke="#ff9a9a" stroke-width="0.9"/>
<line x1="129.17" y1="266.31" x2="129.17" y2="270.27" stroke="#ff9a9a" stroke-width="0.9"/>
<line x1="126.97" y1="266.31" x2="131.37" y2="266.31" stroke="#ff9a9a" stroke-width="0.9"/>
<line x1="126.97" y1="270.27" x2="131.37" y2="270.27" stroke="#ff9a9a" stroke-width="0.9"/>
<line x1="133.75" y1="267.65" x2="133.75" y2="271.31" stroke="#ff9a9a" stroke-width="0.9"/>
<line x1="131.55" y1="267.65" x2="135.95" y2="267.65" stroke="#ff9a9a" stroke-width="0.9"/>
<line x1="131.55" y1="271.31" x2="135.95" y2="271.31" stroke="#ff9a9a" stroke-width="0.9"/>
<line x1="138.33" y1="268.86" x2="138.33" y2="272.24" stroke="#ff9a9a" stroke-width="0.9"/>
<line x1="136.13" y1="268.86" x2="140.53" y2="268.86" stroke="#ff9a9a" stroke-width="0.9"/>
<line x1="136.13" y1="272.24" x2="140.53" y2="272.24" stroke="#ff9a9a" stroke-width="0.9"/>
<line x1="142.91" y1="269.94" x2="142.91" y2="273.06" stroke="#ff9a9a" stroke-width="0.9"/>
<line x1="140.71" y1="269.94" x2="145.11" y2="269.94" stroke="#ff9a9a" stroke-width="0.9"/>
<line x1="140.71" y1="273.06" x2="145.11" y2="273.06" stroke="#ff9a9a" stroke-width="0.9"/>
<line x1="147.49" y1="270.89" x2="147.49" y2="273.79" stroke="#ff9a9a" stroke-width="0.9"/>
<line x1="145.29" y1="270.89" x2="149.69" y2="270.89" stroke="#ff9a9a" stroke-width="0.9"/>
<line x1="145.29" y1="273.79" x2="149.69" y2="273.79" stroke="#ff9a9a" stroke-width="0.9"/>
<line x1="152.07" y1="271.69" x2="152.07" y2="274.41" stroke="#ff9a9a" stroke-width="0.9"/>
<line x1="149.87" y1="271.69" x2="154.27" y2="271.69" stroke="#ff9a9a" stroke-width="0.9"/>
<line x1="149.87" y1="274.41" x2="154.27" y2="274.41" stroke="#ff9a9a" stroke-width="0.9"/>
<line x1="156.65" y1="272.37" x2="156.65" y2="274.92" stroke="#ff9a9a" stroke-width="0.9"/>
<line x1="154.45" y1="272.37" x2="158.85" y2="272.37" stroke="#ff9a9a" stroke-width="0.9"/>
<line x1="154.45" y1="274.92" x2="158.85" y2="274.92" stroke="#ff9a9a" stroke-width="0.9"/>
<line x1="161.23" y1="272.77" x2="161.23" y2="275.23" stroke="#ff9a9a" stroke-width="0.9"/>
<line x1="159.03" y1="272.77" x2="163.43" y2="272.77" stroke="#ff9a9a" stroke-width="0.9"/>
<line x1="159.03" y1="275.23" x2="163.43" y2="275.23" stroke="#ff9a9a" stroke-width="0.9"/>
<line x1="165.81" y1="273.04" x2="165.81" y2="275.44" stroke="#ff9a9a" stroke-width="0.9"/>
<line x1="163.61" y1="273.04" x2="168.01" y2="273.04" stroke="#ff9a9a" stroke-width="0.9"/>
<line x1="163.61" y1="275.44" x2="168.01" y2="275.44" stroke="#ff9a9a" stroke-width="0.9"/>
<polyline points="55.89,267.69 57.04,264.04 58.18,258.77 59.33,253.05 60.47,248.06 61.62,243.95 62.76,240.14 63.91,236.72 65.05,233.78 66.2,231.34 67.34,229.35 68.48,227.8 69.63,226.64 70.78,225.95 71.92,225.71 73.06,225.79 74.21,226.04 75.36,226.51 76.5,227.23 77.65,228.11 78.79,229.02 79.94,229.96 81.08,230.97 82.22,232.05 83.37,233.19 84.52,234.39 85.66,235.68 86.81,236.99 87.95,238.3 89.09,239.61 90.24,240.92 91.39,242.23 92.53,243.54 93.68,244.83 94.82,246.13 95.97,247.4 97.11,248.66 98.25,249.89 99.4,251.11 100.55,252.29 101.69,253.41 102.84,254.47 103.98,255.48 105.12,256.43 106.27,257.34 107.41,258.21 108.56,259.03 109.71,259.81 110.85,260.56 112,261.26 113.14,261.93 114.28,262.57 115.43,263.17 116.58,263.75 117.72,264.3 118.87,264.82 120.01,265.31 121.16,265.8 122.3,266.27 123.44,266.7 124.59,267.1 125.74,267.44 126.88,267.73 128.03,268.01 129.17,268.29 130.31,268.59 131.46,268.89 132.6,269.19 133.75,269.48 134.9,269.76 136.04,270.03 137.19,270.29 138.33,270.55 139.47,270.8 140.62,271.04 141.77,271.28 142.91,271.5 144.06,271.72 145.2,271.93 146.34,272.14 147.49,272.34 148.63,272.53 149.78,272.71 150.93,272.88 152.07,273.05 153.22,273.21 154.36,273.37 155.5,273.52 156.65,273.64 157.8,273.75 158.94,273.85 160.09,273.93 161.23,274 162.38,274.08 163.52,274.14 164.66,274.2 165.81,274.24" fill="none" stroke="#ffb4b4" stroke-width="0.8" stroke-linejoin="round"/>
<circle cx="69.63" cy="187.37" r="0.95" fill="#ff0000"/>
<circle cx="65.05" cy="194.51" r="0.95" fill="#ff0000"/>
<circle cx="74.21" cy="195.7" r="0.95" fill="#ff0000"/>
<circle cx="69.63" cy="204.03" r="0.95" fill="#ff0000"/>
<circle cx="74.21" cy="208.79" r="0.95" fill="#ff0000"/>
<circle cx="78.79" cy="209.98" r="0.95" fill="#ff0000"/>
<circle cx="78.79" cy="212.36" r="0.95" fill="#ff0000"/>
<circle cx="65.05" cy="217.12" r="0.95" fill="#ff0000"/>
<circle cx="60.47" cy="219.5" r="0.95" fill="#ff0000"/>
<circle cx="69.63" cy="201.65" r="0.95" fill="#ff9a9a"/>
<circle cx="74.21" cy="200.46" r="0.95" fill="#ff9a9a"/>
<circle cx="65.05" cy="209.98" r="0.95" fill="#ff9a9a"/>
<circle cx="83.37" cy="219.5" r="0.95" fill="#ff9a9a"/>
<line x1="90.2" y1="208" x2="101.7" y2="208" stroke="#ffb4b4" stroke-width="1"/>
<circle cx="106.5" cy="208" r="0.9" fill="#ff9a9a"/>
<text x="108.6" y="210.97" font-size="8.3" text-anchor="start" fill="#222">Basal</text>
<line x1="134.4" y1="208" x2="146" y2="208" stroke="#ff2020" stroke-width="1.3"/>
<circle cx="150.4" cy="208" r="1.1" fill="#ff0000"/>
<text x="152.9" y="210.97" font-size="8.3" text-anchor="start" fill="#222">Cu</text>
<text x="181.3" y="10.1" font-size="9.5" font-weight="bold" text-anchor="middle" fill="#111">b</text>
<line x1="203.2" y1="21.85" x2="203.2" y2="118.6" stroke="#333" stroke-width="1"/>
<line x1="199.6" y1="115.1" x2="203.2" y2="115.1" stroke="#333" stroke-width="1"/>
<text x="197.8" y="118.64" font-size="8.5" text-anchor="end" fill="#222">0</text>
<line x1="199.6" y1="96.45" x2="203.2" y2="96.45" stroke="#333" stroke-width="1"/>
<text x="197.8" y="99.99" font-size="8.5" text-anchor="end" fill="#222">1</text>
<line x1="199.6" y1="77.8" x2="203.2" y2="77.8" stroke="#333" stroke-width="1"/>
<text x="197.8" y="81.34" font-size="8.5" text-anchor="end" fill="#222">2</text>
<line x1="199.6" y1="59.15" x2="203.2" y2="59.15" stroke="#333" stroke-width="1"/>
<text x="197.8" y="62.69" font-size="8.5" text-anchor="end" fill="#222">3</text>
<line x1="199.6" y1="40.5" x2="203.2" y2="40.5" stroke="#333" stroke-width="1"/>
<text x="197.8" y="44.04" font-size="8.5" text-anchor="end" fill="#222">4</text>
<line x1="199.6" y1="21.85" x2="203.2" y2="21.85" stroke="#333" stroke-width="1"/>
<text x="197.8" y="25.39" font-size="8.5" text-anchor="end" fill="#222">5</text>
<line x1="203.6" y1="118.6" x2="318.3" y2="118.6" stroke="#8a8a8a" stroke-width="1.9"/>
<line x1="205.2" y1="118.6" x2="205.2" y2="122.1" stroke="#333" stroke-width="1"/>
<text x="205.2" y="132.44" font-size="8.5" text-anchor="middle" fill="#222">0</text>
<line x1="227.66" y1="118.6" x2="227.66" y2="122.1" stroke="#333" stroke-width="1"/>
<text x="227.66" y="132.44" font-size="8.5" text-anchor="middle" fill="#222">2</text>
<line x1="250.12" y1="118.6" x2="250.12" y2="122.1" stroke="#333" stroke-width="1"/>
<text x="250.12" y="132.44" font-size="8.5" text-anchor="middle" fill="#222">4</text>
<line x1="272.58" y1="118.6" x2="272.58" y2="122.1" stroke="#333" stroke-width="1"/>
<text x="272.58" y="132.44" font-size="8.5" text-anchor="middle" fill="#222">6</text>
<line x1="295.04" y1="118.6" x2="295.04" y2="122.1" stroke="#333" stroke-width="1"/>
<text x="295.04" y="132.44" font-size="8.5" text-anchor="middle" fill="#222">8</text>
<line x1="317.5" y1="118.6" x2="317.5" y2="122.1" stroke="#333" stroke-width="1"/>
<text x="317.5" y="132.44" font-size="8.5" text-anchor="middle" fill="#222">10</text>
<text x="260.4" y="143.91" font-size="9.8" text-anchor="middle" fill="#222" font-style="italic">ND</text>
<text transform="translate(183.6,67.5) rotate(-90)" x="0" y="3.3" font-size="9.8" text-anchor="middle" fill="#222"><tspan font-style="italic">PDF</tspan> (×10<tspan font-size="6.8" dy="-3.6">−1</tspan><tspan dy="3.6">)</tspan></text>
<circle cx="216.62" cy="86.72" r="0.95" fill="#8080f0"/>
<circle cx="216.78" cy="84.16" r="0.95" fill="#8080f0"/>
<circle cx="216.77" cy="80.55" r="0.95" fill="#8080f0"/>
<circle cx="216.4" cy="74.25" r="0.95" fill="#8080f0"/>
<circle cx="216.55" cy="69.66" r="0.95" fill="#8080f0"/>
<circle cx="216.12" cy="66.61" r="0.95" fill="#8080f0"/>
<circle cx="227.46" cy="85.58" r="0.95" fill="#8080f0"/>
<circle cx="227.72" cy="84.01" r="0.95" fill="#8080f0"/>
<circle cx="227.43" cy="81.71" r="0.95" fill="#8080f0"/>
<circle cx="227.99" cy="78.21" r="0.95" fill="#8080f0"/>
<circle cx="227.39" cy="75.81" r="0.95" fill="#8080f0"/>
<circle cx="227.37" cy="73.94" r="0.95" fill="#8080f0"/>
<circle cx="238.59" cy="91.92" r="0.95" fill="#8080f0"/>
<circle cx="239.19" cy="90.28" r="0.95" fill="#8080f0"/>
<circle cx="238.66" cy="89.25" r="0.95" fill="#8080f0"/>
<circle cx="239.19" cy="86.56" r="0.95" fill="#8080f0"/>
<circle cx="239.26" cy="85.61" r="0.95" fill="#8080f0"/>
<circle cx="239.03" cy="84.28" r="0.95" fill="#8080f0"/>
<circle cx="250.47" cy="96.97" r="0.95" fill="#8080f0"/>
<circle cx="250.49" cy="96.17" r="0.95" fill="#8080f0"/>
<circle cx="249.96" cy="94.54" r="0.95" fill="#8080f0"/>
<circle cx="249.85" cy="91.16" r="0.95" fill="#8080f0"/>
<circle cx="249.77" cy="89.8" r="0.95" fill="#8080f0"/>
<circle cx="250.2" cy="88.34" r="0.95" fill="#8080f0"/>
<circle cx="261.49" cy="100.6" r="0.95" fill="#8080f0"/>
<circle cx="261.2" cy="99.74" r="0.95" fill="#8080f0"/>
<circle cx="261.33" cy="98.42" r="0.95" fill="#8080f0"/>
<circle cx="261.33" cy="95.09" r="0.95" fill="#8080f0"/>
<circle cx="261" cy="93.17" r="0.95" fill="#8080f0"/>
<circle cx="260.97" cy="91.31" r="0.95" fill="#8080f0"/>
<circle cx="272.86" cy="105.34" r="0.95" fill="#8080f0"/>
<circle cx="272.81" cy="103.38" r="0.95" fill="#8080f0"/>
<circle cx="272.64" cy="102.3" r="0.95" fill="#8080f0"/>
<circle cx="272.22" cy="99.7" r="0.95" fill="#8080f0"/>
<circle cx="272.94" cy="98.33" r="0.95" fill="#8080f0"/>
<circle cx="272.78" cy="97.2" r="0.95" fill="#8080f0"/>
<circle cx="284.16" cy="108.87" r="0.95" fill="#8080f0"/>
<circle cx="283.69" cy="107.15" r="0.95" fill="#8080f0"/>
<circle cx="284.03" cy="105.97" r="0.95" fill="#8080f0"/>
<circle cx="284.01" cy="103.5" r="0.95" fill="#8080f0"/>
<circle cx="284.1" cy="101.81" r="0.95" fill="#8080f0"/>
<circle cx="284.17" cy="101.44" r="0.95" fill="#8080f0"/>
<circle cx="294.91" cy="110.26" r="0.95" fill="#8080f0"/>
<circle cx="295.37" cy="109.8" r="0.95" fill="#8080f0"/>
<circle cx="295.38" cy="108.63" r="0.95" fill="#8080f0"/>
<circle cx="294.89" cy="106.58" r="0.95" fill="#8080f0"/>
<circle cx="294.78" cy="105.67" r="0.95" fill="#8080f0"/>
<circle cx="294.76" cy="105.03" r="0.95" fill="#8080f0"/>
<circle cx="306.67" cy="112.44" r="0.95" fill="#8080f0"/>
<circle cx="305.91" cy="111.4" r="0.95" fill="#8080f0"/>
<circle cx="306.3" cy="110.85" r="0.95" fill="#8080f0"/>
<circle cx="306.06" cy="109.05" r="0.95" fill="#8080f0"/>
<circle cx="306.53" cy="108.13" r="0.95" fill="#8080f0"/>
<circle cx="306.21" cy="107.49" r="0.95" fill="#8080f0"/>
<circle cx="317.83" cy="112.99" r="0.95" fill="#8080f0"/>
<circle cx="317.49" cy="112.49" r="0.95" fill="#8080f0"/>
<circle cx="317.2" cy="112.09" r="0.95" fill="#8080f0"/>
<circle cx="317.86" cy="110.67" r="0.95" fill="#8080f0"/>
<circle cx="317.73" cy="110.01" r="0.95" fill="#8080f0"/>
<circle cx="317.45" cy="109.73" r="0.95" fill="#8080f0"/>
<line x1="216.43" y1="65.3" x2="216.43" y2="88.8" stroke="#8080f0" stroke-width="0.9"/>
<line x1="214.43" y1="65.3" x2="218.43" y2="65.3" stroke="#8080f0" stroke-width="0.9"/>
<line x1="214.43" y1="88.8" x2="218.43" y2="88.8" stroke="#8080f0" stroke-width="0.9"/>
<line x1="227.66" y1="75.38" x2="227.66" y2="84.7" stroke="#8080f0" stroke-width="0.9"/>
<line x1="225.66" y1="75.38" x2="229.66" y2="75.38" stroke="#8080f0" stroke-width="0.9"/>
<line x1="225.66" y1="84.7" x2="229.66" y2="84.7" stroke="#8080f0" stroke-width="0.9"/>
<line x1="238.89" y1="86.19" x2="238.89" y2="89.92" stroke="#8080f0" stroke-width="0.9"/>
<line x1="236.89" y1="86.19" x2="240.89" y2="86.19" stroke="#8080f0" stroke-width="0.9"/>
<line x1="236.89" y1="89.92" x2="240.89" y2="89.92" stroke="#8080f0" stroke-width="0.9"/>
<line x1="250.12" y1="90.48" x2="250.12" y2="94.96" stroke="#8080f0" stroke-width="0.9"/>
<line x1="248.12" y1="90.48" x2="252.12" y2="90.48" stroke="#8080f0" stroke-width="0.9"/>
<line x1="248.12" y1="94.96" x2="252.12" y2="94.96" stroke="#8080f0" stroke-width="0.9"/>
<line x1="261.35" y1="94.4" x2="261.35" y2="98.87" stroke="#8080f0" stroke-width="0.9"/>
<line x1="259.35" y1="94.4" x2="263.35" y2="94.4" stroke="#8080f0" stroke-width="0.9"/>
<line x1="259.35" y1="98.87" x2="263.35" y2="98.87" stroke="#8080f0" stroke-width="0.9"/>
<line x1="272.58" y1="99.06" x2="272.58" y2="102.79" stroke="#8080f0" stroke-width="0.9"/>
<line x1="270.58" y1="99.06" x2="274.58" y2="99.06" stroke="#8080f0" stroke-width="0.9"/>
<line x1="270.58" y1="102.79" x2="274.58" y2="102.79" stroke="#8080f0" stroke-width="0.9"/>
<line x1="283.81" y1="103.16" x2="283.81" y2="106.15" stroke="#8080f0" stroke-width="0.9"/>
<line x1="281.81" y1="103.16" x2="285.81" y2="103.16" stroke="#8080f0" stroke-width="0.9"/>
<line x1="281.81" y1="106.15" x2="285.81" y2="106.15" stroke="#8080f0" stroke-width="0.9"/>
<line x1="295.04" y1="106.33" x2="295.04" y2="108.95" stroke="#8080f0" stroke-width="0.9"/>
<line x1="293.04" y1="106.33" x2="297.04" y2="106.33" stroke="#8080f0" stroke-width="0.9"/>
<line x1="293.04" y1="108.95" x2="297.04" y2="108.95" stroke="#8080f0" stroke-width="0.9"/>
<line x1="306.27" y1="108.76" x2="306.27" y2="111" stroke="#8080f0" stroke-width="0.9"/>
<line x1="304.27" y1="108.76" x2="308.27" y2="108.76" stroke="#8080f0" stroke-width="0.9"/>
<line x1="304.27" y1="111" x2="308.27" y2="111" stroke="#8080f0" stroke-width="0.9"/>
<line x1="317.5" y1="110.44" x2="317.5" y2="112.3" stroke="#8080f0" stroke-width="0.9"/>
<line x1="315.5" y1="110.44" x2="319.5" y2="110.44" stroke="#8080f0" stroke-width="0.9"/>
<line x1="315.5" y1="112.3" x2="319.5" y2="112.3" stroke="#8080f0" stroke-width="0.9"/>
<polyline points="216.43,77.05 227.66,80.04 238.89,88.06 250.12,92.72 261.35,96.64 272.58,100.93 283.81,104.66 295.04,107.64 306.27,109.88 317.5,111.37" fill="none" stroke="#9a9ae6" stroke-width="1.4" stroke-linejoin="round"/>
<circle cx="216.71" cy="57.08" r="0.95" fill="#0000cc"/>
<circle cx="216.39" cy="56.19" r="0.95" fill="#0000cc"/>
<circle cx="216.71" cy="55.24" r="0.95" fill="#0000cc"/>
<circle cx="216.39" cy="52.25" r="0.95" fill="#0000cc"/>
<circle cx="216.61" cy="51.14" r="0.95" fill="#0000cc"/>
<circle cx="216.26" cy="50.03" r="0.95" fill="#0000cc"/>
<circle cx="227.38" cy="73.8" r="0.95" fill="#0000cc"/>
<circle cx="228.05" cy="72.97" r="0.95" fill="#0000cc"/>
<circle cx="227.76" cy="72.2" r="0.95" fill="#0000cc"/>
<circle cx="227.53" cy="70.11" r="0.95" fill="#0000cc"/>
<circle cx="227.48" cy="69.37" r="0.95" fill="#0000cc"/>
<circle cx="227.95" cy="68.05" r="0.95" fill="#0000cc"/>
<circle cx="239.12" cy="91.67" r="0.95" fill="#0000cc"/>
<circle cx="239.05" cy="91.11" r="0.95" fill="#0000cc"/>
<circle cx="239.1" cy="90.02" r="0.95" fill="#0000cc"/>
<circle cx="239.05" cy="88.05" r="0.95" fill="#0000cc"/>
<circle cx="238.88" cy="87.16" r="0.95" fill="#0000cc"/>
<circle cx="239.04" cy="85.97" r="0.95" fill="#0000cc"/>
<circle cx="250.48" cy="100.6" r="0.95" fill="#0000cc"/>
<circle cx="250.18" cy="100.14" r="0.95" fill="#0000cc"/>
<circle cx="250.16" cy="99.17" r="0.95" fill="#0000cc"/>
<circle cx="250.26" cy="97.78" r="0.95" fill="#0000cc"/>
<circle cx="250.37" cy="96.95" r="0.95" fill="#0000cc"/>
<circle cx="250.36" cy="96.16" r="0.95" fill="#0000cc"/>
<circle cx="261.47" cy="106.44" r="0.95" fill="#0000cc"/>
<circle cx="261.61" cy="106.05" r="0.95" fill="#0000cc"/>
<circle cx="261.62" cy="105.28" r="0.95" fill="#0000cc"/>
<circle cx="261.5" cy="103.93" r="0.95" fill="#0000cc"/>
<circle cx="261.72" cy="103.16" r="0.95" fill="#0000cc"/>
<circle cx="261.37" cy="102.78" r="0.95" fill="#0000cc"/>
<circle cx="272.85" cy="108.98" r="0.95" fill="#0000cc"/>
<circle cx="272.56" cy="108.82" r="0.95" fill="#0000cc"/>
<circle cx="272.76" cy="108.19" r="0.95" fill="#0000cc"/>
<circle cx="272.32" cy="107.08" r="0.95" fill="#0000cc"/>
<circle cx="272.64" cy="106.51" r="0.95" fill="#0000cc"/>
<circle cx="272.52" cy="106.07" r="0.95" fill="#0000cc"/>
<circle cx="284.03" cy="111.6" r="0.95" fill="#0000cc"/>
<circle cx="283.99" cy="111.25" r="0.95" fill="#0000cc"/>
<circle cx="283.54" cy="110.77" r="0.95" fill="#0000cc"/>
<circle cx="283.93" cy="110.05" r="0.95" fill="#0000cc"/>
<circle cx="283.96" cy="109.72" r="0.95" fill="#0000cc"/>
<circle cx="283.44" cy="109.27" r="0.95" fill="#0000cc"/>
<circle cx="294.82" cy="113.04" r="0.95" fill="#0000cc"/>
<circle cx="294.75" cy="112.68" r="0.95" fill="#0000cc"/>
<circle cx="294.79" cy="112.42" r="0.95" fill="#0000cc"/>
<circle cx="294.67" cy="111.82" r="0.95" fill="#0000cc"/>
<circle cx="294.94" cy="111.47" r="0.95" fill="#0000cc"/>
<circle cx="295.11" cy="111.15" r="0.95" fill="#0000cc"/>
<circle cx="306.59" cy="113.55" r="0.95" fill="#0000cc"/>
<circle cx="306.19" cy="113.31" r="0.95" fill="#0000cc"/>
<circle cx="306.2" cy="113.11" r="0.95" fill="#0000cc"/>
<circle cx="306.54" cy="112.63" r="0.95" fill="#0000cc"/>
<circle cx="305.9" cy="112.36" r="0.95" fill="#0000cc"/>
<circle cx="305.95" cy="112.09" r="0.95" fill="#0000cc"/>
<circle cx="317.37" cy="113.99" r="0.95" fill="#0000cc"/>
<circle cx="317.87" cy="113.82" r="0.95" fill="#0000cc"/>
<circle cx="317.44" cy="113.64" r="0.95" fill="#0000cc"/>
<circle cx="317.61" cy="113.21" r="0.95" fill="#0000cc"/>
<circle cx="317.21" cy="113.05" r="0.95" fill="#0000cc"/>
<circle cx="317.55" cy="112.85" r="0.95" fill="#0000cc"/>
<line x1="216.43" y1="50.01" x2="216.43" y2="57.47" stroke="#0000cc" stroke-width="0.9"/>
<line x1="214.43" y1="50.01" x2="218.43" y2="50.01" stroke="#0000cc" stroke-width="0.9"/>
<line x1="214.43" y1="57.47" x2="218.43" y2="57.47" stroke="#0000cc" stroke-width="0.9"/>
<line x1="227.66" y1="68.85" x2="227.66" y2="73.32" stroke="#0000cc" stroke-width="0.9"/>
<line x1="225.66" y1="68.85" x2="229.66" y2="68.85" stroke="#0000cc" stroke-width="0.9"/>
<line x1="225.66" y1="73.32" x2="229.66" y2="73.32" stroke="#0000cc" stroke-width="0.9"/>
<line x1="238.89" y1="87.12" x2="238.89" y2="90.86" stroke="#0000cc" stroke-width="0.9"/>
<line x1="236.89" y1="87.12" x2="240.89" y2="87.12" stroke="#0000cc" stroke-width="0.9"/>
<line x1="236.89" y1="90.86" x2="240.89" y2="90.86" stroke="#0000cc" stroke-width="0.9"/>
<line x1="250.12" y1="97.38" x2="250.12" y2="99.62" stroke="#0000cc" stroke-width="0.9"/>
<line x1="248.12" y1="97.38" x2="252.12" y2="97.38" stroke="#0000cc" stroke-width="0.9"/>
<line x1="248.12" y1="99.62" x2="252.12" y2="99.62" stroke="#0000cc" stroke-width="0.9"/>
<line x1="261.35" y1="103.72" x2="261.35" y2="105.59" stroke="#0000cc" stroke-width="0.9"/>
<line x1="259.35" y1="103.72" x2="263.35" y2="103.72" stroke="#0000cc" stroke-width="0.9"/>
<line x1="259.35" y1="105.59" x2="263.35" y2="105.59" stroke="#0000cc" stroke-width="0.9"/>
<line x1="272.58" y1="106.89" x2="272.58" y2="108.39" stroke="#0000cc" stroke-width="0.9"/>
<line x1="270.58" y1="106.89" x2="274.58" y2="106.89" stroke="#0000cc" stroke-width="0.9"/>
<line x1="270.58" y1="108.39" x2="274.58" y2="108.39" stroke="#0000cc" stroke-width="0.9"/>
<line x1="283.81" y1="109.88" x2="283.81" y2="111" stroke="#0000cc" stroke-width="0.9"/>
<line x1="281.81" y1="109.88" x2="285.81" y2="109.88" stroke="#0000cc" stroke-width="0.9"/>
<line x1="281.81" y1="111" x2="285.81" y2="111" stroke="#0000cc" stroke-width="0.9"/>
<line x1="295.04" y1="111.74" x2="295.04" y2="112.49" stroke="#0000cc" stroke-width="0.9"/>
<line x1="293.04" y1="111.74" x2="297.04" y2="111.74" stroke="#0000cc" stroke-width="0.9"/>
<line x1="293.04" y1="112.49" x2="297.04" y2="112.49" stroke="#0000cc" stroke-width="0.9"/>
<line x1="306.27" y1="112.49" x2="306.27" y2="113.23" stroke="#0000cc" stroke-width="0.9"/>
<line x1="304.27" y1="112.49" x2="308.27" y2="112.49" stroke="#0000cc" stroke-width="0.9"/>
<line x1="304.27" y1="113.23" x2="308.27" y2="113.23" stroke="#0000cc" stroke-width="0.9"/>
<line x1="317.5" y1="113.05" x2="317.5" y2="113.79" stroke="#0000cc" stroke-width="0.9"/>
<line x1="315.5" y1="113.05" x2="319.5" y2="113.05" stroke="#0000cc" stroke-width="0.9"/>
<line x1="315.5" y1="113.79" x2="319.5" y2="113.79" stroke="#0000cc" stroke-width="0.9"/>
<polyline points="216.43,53.74 227.66,71.09 238.89,88.99 250.12,98.5 261.35,104.66 272.58,107.64 283.81,110.44 295.04,112.12 306.27,112.86 317.5,113.42" fill="none" stroke="#1010c0" stroke-width="1.6" stroke-linejoin="round"/>
<circle cx="216.43" cy="31.17" r="1" fill="#0000cc"/>
<circle cx="216.43" cy="92.35" r="1" fill="#8080f0"/>
<circle cx="216.43" cy="101.86" r="1" fill="#8080f0"/>
<circle cx="227.66" cy="90.3" r="1" fill="#8080f0"/>
<line x1="242.6" y1="44.6" x2="254" y2="44.6" stroke="#9a9ae6" stroke-width="1"/>
<circle cx="258.7" cy="44.6" r="0.9" fill="#8080f0"/>
<text x="261.3" y="47.57" font-size="8.3" text-anchor="start" fill="#222">Basal</text>
<line x1="286.6" y1="44.6" x2="298.5" y2="44.6" stroke="#1010c0" stroke-width="1.3"/>
<circle cx="302.9" cy="44.6" r="1.1" fill="#0000cc"/>
<text x="305.4" y="47.57" font-size="8.3" text-anchor="start" fill="#222">Cu</text>
<text x="181.9" y="171.6" font-size="9.5" font-weight="bold" text-anchor="middle" fill="#111">g</text>
<line x1="203.2" y1="183.35" x2="203.2" y2="280.1" stroke="#333" stroke-width="1"/>
<line x1="199.6" y1="276.6" x2="203.2" y2="276.6" stroke="#333" stroke-width="1"/>
<text x="197.8" y="280.14" font-size="8.5" text-anchor="end" fill="#222">0</text>
<line x1="199.6" y1="257.95" x2="203.2" y2="257.95" stroke="#333" stroke-width="1"/>
<text x="197.8" y="261.49" font-size="8.5" text-anchor="end" fill="#222">1</text>
<line x1="199.6" y1="239.3" x2="203.2" y2="239.3" stroke="#333" stroke-width="1"/>
<text x="197.8" y="242.84" font-size="8.5" text-anchor="end" fill="#222">2</text>
<line x1="199.6" y1="220.65" x2="203.2" y2="220.65" stroke="#333" stroke-width="1"/>
<text x="197.8" y="224.19" font-size="8.5" text-anchor="end" fill="#222">3</text>
<line x1="199.6" y1="202" x2="203.2" y2="202" stroke="#333" stroke-width="1"/>
<text x="197.8" y="205.54" font-size="8.5" text-anchor="end" fill="#222">4</text>
<line x1="199.6" y1="183.35" x2="203.2" y2="183.35" stroke="#333" stroke-width="1"/>
<text x="197.8" y="186.89" font-size="8.5" text-anchor="end" fill="#222">5</text>
<line x1="203.6" y1="280.1" x2="318.3" y2="280.1" stroke="#8a8a8a" stroke-width="1.9"/>
<line x1="205.2" y1="280.1" x2="205.2" y2="283.6" stroke="#333" stroke-width="1"/>
<text x="205.2" y="293.94" font-size="8.5" text-anchor="middle" fill="#222">0</text>
<line x1="227.66" y1="280.1" x2="227.66" y2="283.6" stroke="#333" stroke-width="1"/>
<text x="227.66" y="293.94" font-size="8.5" text-anchor="middle" fill="#222">2</text>
<line x1="250.12" y1="280.1" x2="250.12" y2="283.6" stroke="#333" stroke-width="1"/>
<text x="250.12" y="293.94" font-size="8.5" text-anchor="middle" fill="#222">4</text>
<line x1="272.58" y1="280.1" x2="272.58" y2="283.6" stroke="#333" stroke-width="1"/>
<text x="272.58" y="293.94" font-size="8.5" text-anchor="middle" fill="#222">6</text>
<line x1="295.04" y1="280.1" x2="295.04" y2="283.6" stroke="#333" stroke-width="1"/>
<text x="295.04" y="293.94" font-size="8.5" text-anchor="middle" fill="#222">8</text>
<line x1="317.5" y1="280.1" x2="317.5" y2="283.6" stroke="#333" stroke-width="1"/>
<text x="317.5" y="293.94" font-size="8.5" text-anchor="middle" fill="#222">10</text>
<text x="260.4" y="305.41" font-size="9.8" text-anchor="middle" fill="#222" font-style="italic">ND</text>
<text transform="translate(183.6,229) rotate(-90)" x="0" y="3.3" font-size="9.8" text-anchor="middle" fill="#222"><tspan font-style="italic">PDF</tspan> (×10<tspan font-size="6.8" dy="-3.6">−1</tspan><tspan dy="3.6">)</tspan></text>
<circle cx="216.33" cy="245.7" r="0.95" fill="#ff9a9a"/>
<circle cx="216.72" cy="241.62" r="0.95" fill="#ff9a9a"/>
<circle cx="216.43" cy="237.97" r="0.95" fill="#ff9a9a"/>
<circle cx="216.09" cy="230.25" r="0.95" fill="#ff9a9a"/>
<circle cx="216.52" cy="226.68" r="0.95" fill="#ff9a9a"/>
<circle cx="216.33" cy="224.99" r="0.95" fill="#ff9a9a"/>
<circle cx="227.62" cy="244.3" r="0.95" fill="#ff9a9a"/>
<circle cx="227.39" cy="242.55" r="0.95" fill="#ff9a9a"/>
<circle cx="227.35" cy="240.17" r="0.95" fill="#ff9a9a"/>
<circle cx="228" cy="236.41" r="0.95" fill="#ff9a9a"/>
<circle cx="227.88" cy="234.34" r="0.95" fill="#ff9a9a"/>
<circle cx="227.86" cy="232.97" r="0.95" fill="#ff9a9a"/>
<circle cx="238.72" cy="252.84" r="0.95" fill="#ff9a9a"/>
<circle cx="239.07" cy="252.3" r="0.95" fill="#ff9a9a"/>
<circle cx="238.56" cy="250.83" r="0.95" fill="#ff9a9a"/>
<circle cx="238.66" cy="248.34" r="0.95" fill="#ff9a9a"/>
<circle cx="239.14" cy="247.12" r="0.95" fill="#ff9a9a"/>
<circle cx="239.2" cy="246.16" r="0.95" fill="#ff9a9a"/>
<circle cx="249.76" cy="261.4" r="0.95" fill="#ff9a9a"/>
<circle cx="250.11" cy="259.6" r="0.95" fill="#ff9a9a"/>
<circle cx="250.06" cy="258.06" r="0.95" fill="#ff9a9a"/>
<circle cx="249.81" cy="255.22" r="0.95" fill="#ff9a9a"/>
<circle cx="249.82" cy="253.88" r="0.95" fill="#ff9a9a"/>
<circle cx="250.44" cy="252.63" r="0.95" fill="#ff9a9a"/>
<circle cx="260.96" cy="266.16" r="0.95" fill="#ff9a9a"/>
<circle cx="261.38" cy="264.94" r="0.95" fill="#ff9a9a"/>
<circle cx="261.02" cy="263.65" r="0.95" fill="#ff9a9a"/>
<circle cx="261.69" cy="260.99" r="0.95" fill="#ff9a9a"/>
<circle cx="261.27" cy="259.62" r="0.95" fill="#ff9a9a"/>
<circle cx="261.02" cy="258.15" r="0.95" fill="#ff9a9a"/>
<circle cx="272.32" cy="270.35" r="0.95" fill="#ff9a9a"/>
<circle cx="272.95" cy="269.23" r="0.95" fill="#ff9a9a"/>
<circle cx="272.62" cy="267.66" r="0.95" fill="#ff9a9a"/>
<circle cx="272.3" cy="265.18" r="0.95" fill="#ff9a9a"/>
<circle cx="272.98" cy="264.1" r="0.95" fill="#ff9a9a"/>
<circle cx="272.28" cy="262.24" r="0.95" fill="#ff9a9a"/>
<circle cx="284.17" cy="272.7" r="0.95" fill="#ff9a9a"/>
<circle cx="283.9" cy="271.3" r="0.95" fill="#ff9a9a"/>
<circle cx="283.7" cy="270.15" r="0.95" fill="#ff9a9a"/>
<circle cx="283.88" cy="267.9" r="0.95" fill="#ff9a9a"/>
<circle cx="283.48" cy="266.6" r="0.95" fill="#ff9a9a"/>
<circle cx="284.1" cy="265.94" r="0.95" fill="#ff9a9a"/>
<circle cx="295" cy="273.88" r="0.95" fill="#ff9a9a"/>
<circle cx="295.43" cy="272.85" r="0.95" fill="#ff9a9a"/>
<circle cx="294.65" cy="271.89" r="0.95" fill="#ff9a9a"/>
<circle cx="294.9" cy="269.68" r="0.95" fill="#ff9a9a"/>
<circle cx="294.81" cy="268.77" r="0.95" fill="#ff9a9a"/>
<circle cx="294.9" cy="267.88" r="0.95" fill="#ff9a9a"/>
<circle cx="306.37" cy="274.23" r="0.95" fill="#ff9a9a"/>
<circle cx="306.5" cy="273.55" r="0.95" fill="#ff9a9a"/>
<circle cx="306.49" cy="272.72" r="0.95" fill="#ff9a9a"/>
<circle cx="306.27" cy="270.94" r="0.95" fill="#ff9a9a"/>
<circle cx="306.07" cy="269.99" r="0.95" fill="#ff9a9a"/>
<circle cx="306.21" cy="269.14" r="0.95" fill="#ff9a9a"/>
<circle cx="317.87" cy="274.74" r="0.95" fill="#ff9a9a"/>
<circle cx="317.4" cy="274.2" r="0.95" fill="#ff9a9a"/>
<circle cx="317.4" cy="273.55" r="0.95" fill="#ff9a9a"/>
<circle cx="317.24" cy="271.86" r="0.95" fill="#ff9a9a"/>
<circle cx="317.31" cy="270.96" r="0.95" fill="#ff9a9a"/>
<circle cx="317.88" cy="270.75" r="0.95" fill="#ff9a9a"/>
<line x1="216.43" y1="217.85" x2="216.43" y2="251.42" stroke="#ff9a9a" stroke-width="0.9"/>
<line x1="214.43" y1="217.85" x2="218.43" y2="217.85" stroke="#ff9a9a" stroke-width="0.9"/>
<line x1="214.43" y1="251.42" x2="218.43" y2="251.42" stroke="#ff9a9a" stroke-width="0.9"/>
<line x1="227.66" y1="232.77" x2="227.66" y2="243.96" stroke="#ff9a9a" stroke-width="0.9"/>
<line x1="225.66" y1="232.77" x2="229.66" y2="232.77" stroke="#ff9a9a" stroke-width="0.9"/>
<line x1="225.66" y1="243.96" x2="229.66" y2="243.96" stroke="#ff9a9a" stroke-width="0.9"/>
<line x1="238.89" y1="246.76" x2="238.89" y2="252.36" stroke="#ff9a9a" stroke-width="0.9"/>
<line x1="236.89" y1="246.76" x2="240.89" y2="246.76" stroke="#ff9a9a" stroke-width="0.9"/>
<line x1="236.89" y1="252.36" x2="240.89" y2="252.36" stroke="#ff9a9a" stroke-width="0.9"/>
<line x1="250.12" y1="254.03" x2="250.12" y2="259.63" stroke="#ff9a9a" stroke-width="0.9"/>
<line x1="248.12" y1="254.03" x2="252.12" y2="254.03" stroke="#ff9a9a" stroke-width="0.9"/>
<line x1="248.12" y1="259.63" x2="252.12" y2="259.63" stroke="#ff9a9a" stroke-width="0.9"/>
<line x1="261.35" y1="259.63" x2="261.35" y2="265.22" stroke="#ff9a9a" stroke-width="0.9"/>
<line x1="259.35" y1="259.63" x2="263.35" y2="259.63" stroke="#ff9a9a" stroke-width="0.9"/>
<line x1="259.35" y1="265.22" x2="263.35" y2="265.22" stroke="#ff9a9a" stroke-width="0.9"/>
<line x1="272.58" y1="264.1" x2="272.58" y2="268.95" stroke="#ff9a9a" stroke-width="0.9"/>
<line x1="270.58" y1="264.1" x2="274.58" y2="264.1" stroke="#ff9a9a" stroke-width="0.9"/>
<line x1="270.58" y1="268.95" x2="274.58" y2="268.95" stroke="#ff9a9a" stroke-width="0.9"/>
<line x1="283.81" y1="266.9" x2="283.81" y2="271.38" stroke="#ff9a9a" stroke-width="0.9"/>
<line x1="281.81" y1="266.9" x2="285.81" y2="266.9" stroke="#ff9a9a" stroke-width="0.9"/>
<line x1="281.81" y1="271.38" x2="285.81" y2="271.38" stroke="#ff9a9a" stroke-width="0.9"/>
<line x1="295.04" y1="268.95" x2="295.04" y2="272.68" stroke="#ff9a9a" stroke-width="0.9"/>
<line x1="293.04" y1="268.95" x2="297.04" y2="268.95" stroke="#ff9a9a" stroke-width="0.9"/>
<line x1="293.04" y1="272.68" x2="297.04" y2="272.68" stroke="#ff9a9a" stroke-width="0.9"/>
<line x1="306.27" y1="270.45" x2="306.27" y2="273.43" stroke="#ff9a9a" stroke-width="0.9"/>
<line x1="304.27" y1="270.45" x2="308.27" y2="270.45" stroke="#ff9a9a" stroke-width="0.9"/>
<line x1="304.27" y1="273.43" x2="308.27" y2="273.43" stroke="#ff9a9a" stroke-width="0.9"/>
<line x1="317.5" y1="271.38" x2="317.5" y2="273.99" stroke="#ff9a9a" stroke-width="0.9"/>
<line x1="315.5" y1="271.38" x2="319.5" y2="271.38" stroke="#ff9a9a" stroke-width="0.9"/>
<line x1="315.5" y1="273.99" x2="319.5" y2="273.99" stroke="#ff9a9a" stroke-width="0.9"/>
<polyline points="216.43,234.64 227.66,238.37 238.89,249.56 250.12,256.83 261.35,262.43 272.58,266.53 283.81,269.14 295.04,270.82 306.27,271.94 317.5,272.68" fill="none" stroke="#ffb0b0" stroke-width="1.0" stroke-linejoin="round"/>
<circle cx="216.79" cy="236.52" r="0.95" fill="#ff1010"/>
<circle cx="216.52" cy="235.41" r="0.95" fill="#ff1010"/>
<circle cx="216.08" cy="229.77" r="0.95" fill="#ff1010"/>
<circle cx="216.34" cy="222.86" r="0.95" fill="#ff1010"/>
<circle cx="216.8" cy="218.34" r="0.95" fill="#ff1010"/>
<circle cx="216.14" cy="215.73" r="0.95" fill="#ff1010"/>
<circle cx="227.37" cy="245.97" r="0.95" fill="#ff1010"/>
<circle cx="227.7" cy="242.94" r="0.95" fill="#ff1010"/>
<circle cx="227.31" cy="241.13" r="0.95" fill="#ff1010"/>
<circle cx="227.82" cy="235.79" r="0.95" fill="#ff1010"/>
<circle cx="227.57" cy="232.73" r="0.95" fill="#ff1010"/>
<circle cx="227.4" cy="230.04" r="0.95" fill="#ff1010"/>
<circle cx="239.11" cy="255.51" r="0.95" fill="#ff1010"/>
<circle cx="238.89" cy="253.92" r="0.95" fill="#ff1010"/>
<circle cx="238.53" cy="251.28" r="0.95" fill="#ff1010"/>
<circle cx="238.63" cy="247.58" r="0.95" fill="#ff1010"/>
<circle cx="238.56" cy="245.49" r="0.95" fill="#ff1010"/>
<circle cx="238.67" cy="243.49" r="0.95" fill="#ff1010"/>
<circle cx="249.86" cy="262.4" r="0.95" fill="#ff1010"/>
<circle cx="250.17" cy="261.34" r="0.95" fill="#ff1010"/>
<circle cx="249.86" cy="259.04" r="0.95" fill="#ff1010"/>
<circle cx="250.48" cy="254.56" r="0.95" fill="#ff1010"/>
<circle cx="250.47" cy="252.21" r="0.95" fill="#ff1010"/>
<circle cx="250.51" cy="251.23" r="0.95" fill="#ff1010"/>
<circle cx="261.39" cy="270.09" r="0.95" fill="#ff1010"/>
<circle cx="261.38" cy="267.4" r="0.95" fill="#ff1010"/>
<circle cx="261" cy="265.36" r="0.95" fill="#ff1010"/>
<circle cx="261.38" cy="260.42" r="0.95" fill="#ff1010"/>
<circle cx="261.53" cy="258.5" r="0.95" fill="#ff1010"/>
<circle cx="261.03" cy="255.84" r="0.95" fill="#ff1010"/>
<circle cx="272.54" cy="274.81" r="0.95" fill="#ff1010"/>
<circle cx="272.69" cy="272.11" r="0.95" fill="#ff1010"/>
<circle cx="272.66" cy="269.16" r="0.95" fill="#ff1010"/>
<circle cx="272.88" cy="264.39" r="0.95" fill="#ff1010"/>
<circle cx="272.84" cy="262.1" r="0.95" fill="#ff1010"/>
<circle cx="272.68" cy="258.93" r="0.95" fill="#ff1010"/>
<circle cx="283.44" cy="276.23" r="0.95" fill="#ff1010"/>
<circle cx="283.9" cy="274.03" r="0.95" fill="#ff1010"/>
<circle cx="283.74" cy="271.73" r="0.95" fill="#ff1010"/>
<circle cx="283.56" cy="267.34" r="0.95" fill="#ff1010"/>
<circle cx="283.56" cy="264.61" r="0.95" fill="#ff1010"/>
<circle cx="283.69" cy="263.65" r="0.95" fill="#ff1010"/>
<circle cx="295.07" cy="276.23" r="0.95" fill="#ff1010"/>
<circle cx="295.26" cy="274.36" r="0.95" fill="#ff1010"/>
<circle cx="295.27" cy="272.87" r="0.95" fill="#ff1010"/>
<circle cx="295.4" cy="269.34" r="0.95" fill="#ff1010"/>
<circle cx="295.42" cy="266.98" r="0.95" fill="#ff1010"/>
<circle cx="295.31" cy="264.59" r="0.95" fill="#ff1010"/>
<circle cx="306.15" cy="276.23" r="0.95" fill="#ff1010"/>
<circle cx="306.49" cy="275.72" r="0.95" fill="#ff1010"/>
<circle cx="306.05" cy="273.9" r="0.95" fill="#ff1010"/>
<circle cx="305.97" cy="270.39" r="0.95" fill="#ff1010"/>
<circle cx="306.65" cy="267.69" r="0.95" fill="#ff1010"/>
<circle cx="306.46" cy="266.74" r="0.95" fill="#ff1010"/>
<circle cx="317.52" cy="276.23" r="0.95" fill="#ff1010"/>
<circle cx="317.61" cy="276.01" r="0.95" fill="#ff1010"/>
<circle cx="317.31" cy="274.37" r="0.95" fill="#ff1010"/>
<circle cx="317.26" cy="271.23" r="0.95" fill="#ff1010"/>
<circle cx="317.86" cy="269.67" r="0.95" fill="#ff1010"/>
<circle cx="317.18" cy="268.88" r="0.95" fill="#ff1010"/>
<line x1="216.43" y1="198.46" x2="216.43" y2="254.41" stroke="#ff1010" stroke-width="0.9"/>
<line x1="214.43" y1="198.46" x2="218.43" y2="198.46" stroke="#ff1010" stroke-width="0.9"/>
<line x1="214.43" y1="254.41" x2="218.43" y2="254.41" stroke="#ff1010" stroke-width="0.9"/>
<line x1="227.66" y1="229.98" x2="227.66" y2="246.76" stroke="#ff1010" stroke-width="0.9"/>
<line x1="225.66" y1="229.98" x2="229.66" y2="229.98" stroke="#ff1010" stroke-width="0.9"/>
<line x1="225.66" y1="246.76" x2="229.66" y2="246.76" stroke="#ff1010" stroke-width="0.9"/>
<line x1="238.89" y1="245.83" x2="238.89" y2="253.29" stroke="#ff1010" stroke-width="0.9"/>
<line x1="236.89" y1="245.83" x2="240.89" y2="245.83" stroke="#ff1010" stroke-width="0.9"/>
<line x1="236.89" y1="253.29" x2="240.89" y2="253.29" stroke="#ff1010" stroke-width="0.9"/>
<line x1="250.12" y1="253.1" x2="250.12" y2="260.56" stroke="#ff1010" stroke-width="0.9"/>
<line x1="248.12" y1="253.1" x2="252.12" y2="253.1" stroke="#ff1010" stroke-width="0.9"/>
<line x1="248.12" y1="260.56" x2="252.12" y2="260.56" stroke="#ff1010" stroke-width="0.9"/>
<line x1="261.35" y1="259.07" x2="261.35" y2="266.53" stroke="#ff1010" stroke-width="0.9"/>
<line x1="259.35" y1="259.07" x2="263.35" y2="259.07" stroke="#ff1010" stroke-width="0.9"/>
<line x1="259.35" y1="266.53" x2="263.35" y2="266.53" stroke="#ff1010" stroke-width="0.9"/>
<line x1="272.58" y1="263.55" x2="272.58" y2="270.26" stroke="#ff1010" stroke-width="0.9"/>
<line x1="270.58" y1="263.55" x2="274.58" y2="263.55" stroke="#ff1010" stroke-width="0.9"/>
<line x1="270.58" y1="270.26" x2="274.58" y2="270.26" stroke="#ff1010" stroke-width="0.9"/>
<line x1="283.81" y1="266.53" x2="283.81" y2="272.12" stroke="#ff1010" stroke-width="0.9"/>
<line x1="281.81" y1="266.53" x2="285.81" y2="266.53" stroke="#ff1010" stroke-width="0.9"/>
<line x1="281.81" y1="272.12" x2="285.81" y2="272.12" stroke="#ff1010" stroke-width="0.9"/>
<line x1="295.04" y1="268.58" x2="295.04" y2="273.43" stroke="#ff1010" stroke-width="0.9"/>
<line x1="293.04" y1="268.58" x2="297.04" y2="268.58" stroke="#ff1010" stroke-width="0.9"/>
<line x1="293.04" y1="273.43" x2="297.04" y2="273.43" stroke="#ff1010" stroke-width="0.9"/>
<line x1="306.27" y1="269.89" x2="306.27" y2="274.36" stroke="#ff1010" stroke-width="0.9"/>
<line x1="304.27" y1="269.89" x2="308.27" y2="269.89" stroke="#ff1010" stroke-width="0.9"/>
<line x1="304.27" y1="274.36" x2="308.27" y2="274.36" stroke="#ff1010" stroke-width="0.9"/>
<line x1="317.5" y1="271" x2="317.5" y2="274.74" stroke="#ff1010" stroke-width="0.9"/>
<line x1="315.5" y1="271" x2="319.5" y2="271" stroke="#ff1010" stroke-width="0.9"/>
<line x1="315.5" y1="274.74" x2="319.5" y2="274.74" stroke="#ff1010" stroke-width="0.9"/>
<polyline points="216.43,226.43 227.66,238.37 238.89,249.56 250.12,256.83 261.35,262.8 272.58,266.9 283.81,269.33 295.04,271 306.27,272.12 317.5,272.87" fill="none" stroke="#ff4545" stroke-width="1.6" stroke-linejoin="round"/>
<circle cx="216.43" cy="192.68" r="1" fill="#ff0000"/>
<circle cx="216.43" cy="208.53" r="1" fill="#ff0000"/>
<circle cx="216.43" cy="214.12" r="1" fill="#ff0000"/>
<circle cx="216.43" cy="223.45" r="1" fill="#ff0000"/>
<circle cx="216.43" cy="259.26" r="1" fill="#ff0000"/>
<circle cx="216.43" cy="263.55" r="1" fill="#ff0000"/>
<circle cx="227.66" cy="229.98" r="1" fill="#ff0000"/>
<circle cx="227.66" cy="256.09" r="1" fill="#ff0000"/>
<line x1="242.6" y1="208" x2="254" y2="208" stroke="#ffb0b0" stroke-width="1"/>
<circle cx="258.7" cy="208" r="0.9" fill="#ff9a9a"/>
<text x="261.3" y="210.97" font-size="8.3" text-anchor="start" fill="#222">Basal</text>
<line x1="286.6" y1="208" x2="298.5" y2="208" stroke="#ff4545" stroke-width="1.3"/>
<circle cx="302.9" cy="208" r="1.1" fill="#ff1010"/>
<text x="305.4" y="210.97" font-size="8.3" text-anchor="start" fill="#222">Cu</text>
<text x="329.6" y="10.1" font-size="9.5" font-weight="bold" text-anchor="middle" fill="#111">c</text>
<rect x="357.2" y="23.1" width="81.3" height="97.2" fill="#fff" stroke="#444" stroke-width="0.9"/>
<text x="348.6" y="123.61" font-size="8.4" text-anchor="middle" fill="#222">0</text>
<line x1="357.2" y1="100.86" x2="361.2" y2="100.86" stroke="#444" stroke-width="0.9"/>
<text x="348.6" y="104.17" font-size="8.4" text-anchor="middle" fill="#222">20</text>
<line x1="357.2" y1="81.42" x2="361.2" y2="81.42" stroke="#444" stroke-width="0.9"/>
<text x="348.6" y="84.73" font-size="8.4" text-anchor="middle" fill="#222">40</text>
<line x1="357.2" y1="61.98" x2="361.2" y2="61.98" stroke="#444" stroke-width="0.9"/>
<text x="348.6" y="65.29" font-size="8.4" text-anchor="middle" fill="#222">60</text>
<line x1="357.2" y1="42.54" x2="361.2" y2="42.54" stroke="#444" stroke-width="0.9"/>
<text x="348.6" y="45.85" font-size="8.4" text-anchor="middle" fill="#222">80</text>
<text x="348.6" y="26.41" font-size="8.4" text-anchor="middle" fill="#222">100</text>
<text transform="translate(335.2,71.4) rotate(-90)" x="0" y="3.3" font-size="9.2" text-anchor="middle" fill="#222">Population%</text>
<rect x="371.4" y="88.71" width="20.6" height="31.59" fill="#0072BD"/>
<rect x="371.4" y="84.24" width="20.6" height="4.47" fill="#D95319"/>
<rect x="371.4" y="23.1" width="20.6" height="61.14" fill="#EDB120"/>
<rect x="371.4" y="23.1" width="20.6" height="97.2" fill="none" stroke="#222" stroke-width="0.8"/>
<line x1="371.4" y1="88.71" x2="392" y2="88.71" stroke="#222" stroke-width="0.8"/>
<line x1="371.4" y1="84.24" x2="392" y2="84.24" stroke="#222" stroke-width="0.8"/>
<text x="381.7" y="56.31" font-size="8.4" text-anchor="middle" fill="#111">62.9</text>
<text x="381.7" y="90.01" font-size="8.4" text-anchor="middle" fill="#fff">4.6</text>
<text x="381.7" y="110.51" font-size="8.4" text-anchor="middle" fill="#fff">32.5</text>
<rect x="402.3" y="67.52" width="20.7" height="52.78" fill="#0072BD"/>
<rect x="402.3" y="63.63" width="20.7" height="3.89" fill="#D95319"/>
<rect x="402.3" y="23.1" width="20.7" height="40.53" fill="#EDB120"/>
<rect x="402.3" y="23.1" width="20.7" height="97.2" fill="none" stroke="#222" stroke-width="0.8"/>
<line x1="402.3" y1="67.52" x2="423" y2="67.52" stroke="#222" stroke-width="0.8"/>
<line x1="402.3" y1="63.63" x2="423" y2="63.63" stroke="#222" stroke-width="0.8"/>
<text x="412.65" y="46.41" font-size="8.4" text-anchor="middle" fill="#111">41.7</text>
<text x="412.65" y="68.61" font-size="8.4" text-anchor="middle" fill="#fff">4.0</text>
<text x="412.65" y="97.51" font-size="8.4" text-anchor="middle" fill="#fff">54.3</text>
<text x="383.8" y="130.29" font-size="9.2" text-anchor="middle" fill="#222">Basal</text>
<text x="412.6" y="130.29" font-size="9.2" text-anchor="middle" fill="#222">Cu</text>
<rect x="330.5" y="133.6" width="128.5" height="12.7" fill="#fff" stroke="#444" stroke-width="0.9"/>
<rect x="333.8" y="137.95" width="10.2" height="4" fill="#0072BD"/>
<text x="344.8" y="143.4" font-size="8.8" text-anchor="start" fill="#222" textLength="36.4" lengthAdjust="spacingAndGlyphs">monomer</text>
<rect x="382.4" y="137.95" width="10" height="4" fill="#D95319"/>
<text x="393.7" y="143.4" font-size="8.8" text-anchor="start" fill="#222" textLength="24.0" lengthAdjust="spacingAndGlyphs">dimer</text>
<rect x="419.2" y="137.95" width="10.5" height="4" fill="#EDB120"/>
<text x="431" y="143.4" font-size="8.8" text-anchor="start" fill="#222" textLength="24.2" lengthAdjust="spacingAndGlyphs">trimer</text>
<text x="329.6" y="171.9" font-size="9.5" font-weight="bold" text-anchor="middle" fill="#111">h</text>
<rect x="357.2" y="182.8" width="81.3" height="96.9" fill="#fff" stroke="#444" stroke-width="0.9"/>
<text x="348.6" y="283.01" font-size="8.4" text-anchor="middle" fill="#222">0</text>
<line x1="357.2" y1="260.32" x2="361.2" y2="260.32" stroke="#444" stroke-width="0.9"/>
<text x="348.6" y="263.63" font-size="8.4" text-anchor="middle" fill="#222">20</text>
<line x1="357.2" y1="240.94" x2="361.2" y2="240.94" stroke="#444" stroke-width="0.9"/>
<text x="348.6" y="244.25" font-size="8.4" text-anchor="middle" fill="#222">40</text>
<line x1="357.2" y1="221.56" x2="361.2" y2="221.56" stroke="#444" stroke-width="0.9"/>
<text x="348.6" y="224.87" font-size="8.4" text-anchor="middle" fill="#222">60</text>
<line x1="357.2" y1="202.18" x2="361.2" y2="202.18" stroke="#444" stroke-width="0.9"/>
<text x="348.6" y="205.49" font-size="8.4" text-anchor="middle" fill="#222">80</text>
<text x="348.6" y="186.11" font-size="8.4" text-anchor="middle" fill="#222">100</text>
<text transform="translate(335.2,231.1) rotate(-90)" x="0" y="3.3" font-size="9.2" text-anchor="middle" fill="#222">Population%</text>
<rect x="371.4" y="244.14" width="20.6" height="35.56" fill="#0072BD"/>
<rect x="371.4" y="239.2" width="20.6" height="4.94" fill="#D95319"/>
<rect x="371.4" y="182.8" width="20.6" height="56.4" fill="#EDB120"/>
<rect x="371.4" y="182.8" width="20.6" height="96.9" fill="none" stroke="#222" stroke-width="0.8"/>
<line x1="371.4" y1="244.14" x2="392" y2="244.14" stroke="#222" stroke-width="0.8"/>
<line x1="371.4" y1="239.2" x2="392" y2="239.2" stroke="#222" stroke-width="0.8"/>
<text x="381.7" y="220.21" font-size="8.4" text-anchor="middle" fill="#111">58.2</text>
<text x="381.7" y="244.41" font-size="8.4" text-anchor="middle" fill="#fff">5.1</text>
<text x="381.7" y="268.61" font-size="8.4" text-anchor="middle" fill="#fff">36.7</text>
<rect x="402.3" y="240.55" width="20.7" height="39.15" fill="#0072BD"/>
<rect x="402.3" y="236.48" width="20.7" height="4.07" fill="#D95319"/>
<rect x="402.3" y="182.8" width="20.7" height="53.68" fill="#EDB120"/>
<rect x="402.3" y="182.8" width="20.7" height="96.9" fill="none" stroke="#222" stroke-width="0.8"/>
<line x1="402.3" y1="240.55" x2="423" y2="240.55" stroke="#222" stroke-width="0.8"/>
<line x1="402.3" y1="236.48" x2="423" y2="236.48" stroke="#222" stroke-width="0.8"/>
<text x="412.65" y="219.31" font-size="8.4" text-anchor="middle" fill="#111">55.4</text>
<text x="412.65" y="241.61" font-size="8.4" text-anchor="middle" fill="#fff">4.2</text>
<text x="412.65" y="268.61" font-size="8.4" text-anchor="middle" fill="#fff">40.4</text>
<text x="383.8" y="289.69" font-size="9.2" text-anchor="middle" fill="#222">Basal</text>
<text x="412.6" y="289.69" font-size="9.2" text-anchor="middle" fill="#222">Cu</text>
<rect x="330.5" y="296.2" width="128.5" height="13.2" fill="#fff" stroke="#444" stroke-width="0.9"/>
<rect x="333.8" y="300.8" width="10.2" height="4" fill="#0072BD"/>
<text x="344.8" y="306.25" font-size="8.8" text-anchor="start" fill="#222" textLength="36.4" lengthAdjust="spacingAndGlyphs">monomer</text>
<rect x="382.4" y="300.8" width="10" height="4" fill="#D95319"/>
<text x="393.7" y="306.25" font-size="8.8" text-anchor="start" fill="#222" textLength="24.0" lengthAdjust="spacingAndGlyphs">dimer</text>
<rect x="419.2" y="300.8" width="10.5" height="4" fill="#EDB120"/>
<text x="431" y="306.25" font-size="8.8" text-anchor="start" fill="#222" textLength="24.2" lengthAdjust="spacingAndGlyphs">trimer</text>
<text x="457.1" y="10.1" font-size="9.5" font-weight="bold" text-anchor="middle" fill="#111">d</text>
<line x1="476.5" y1="23.3" x2="476.5" y2="120.2" stroke="#333" stroke-width="1"/>
<line x1="473.2" y1="119.9" x2="476.5" y2="119.9" stroke="#333" stroke-width="1"/>
<text x="471.2" y="122.34" font-size="8.5" text-anchor="end" fill="#222">0</text>
<line x1="473.2" y1="87.7" x2="476.5" y2="87.7" stroke="#333" stroke-width="1"/>
<text x="471.2" y="90.74" font-size="8.5" text-anchor="end" fill="#222">1</text>
<line x1="473.2" y1="55.5" x2="476.5" y2="55.5" stroke="#333" stroke-width="1"/>
<text x="471.2" y="58.54" font-size="8.5" text-anchor="end" fill="#222">2</text>
<line x1="473.2" y1="23.3" x2="476.5" y2="23.3" stroke="#333" stroke-width="1"/>
<text x="471.2" y="26.34" font-size="8.5" text-anchor="end" fill="#222">3</text>
<line x1="476.5" y1="120.2" x2="535.5" y2="120.2" stroke="#444" stroke-width="1.3"/>
<text x="492.5" y="132.09" font-size="9.2" text-anchor="middle" fill="#222">Basal</text>
<text x="518.6" y="132.09" font-size="9.2" text-anchor="middle" fill="#222">Cu</text>
<text transform="translate(462.7,73.1) rotate(-90)" x="0" y="3.5" font-size="9.8" text-anchor="middle" fill="#222" font-style="italic">N</text>
<line x1="458.2" y1="67.9" x2="458.2" y2="76.6" stroke="#222" stroke-width="0.9"/>
<text x="505.6" y="18.87" font-size="6.9" text-anchor="middle" fill="#222">p=0.0244</text>
<line x1="493.4" y1="22" x2="518.4" y2="22" stroke="#222" stroke-width="0.9"/>
<line x1="493.4" y1="22" x2="493.4" y2="26.5" stroke="#222" stroke-width="0.9"/>
<line x1="518.4" y1="22" x2="518.4" y2="49.7" stroke="#222" stroke-width="0.9"/>
<circle cx="493.4" cy="31.3" r="2" fill="#8080f0"/>
<circle cx="493.4" cy="39.6" r="2" fill="#8080f0"/>
<circle cx="489.1" cy="56.1" r="2" fill="#8080f0"/>
<circle cx="497.3" cy="54.9" r="2" fill="#8080f0"/>
<circle cx="512" cy="57.5" r="2" fill="#0000cc"/>
<circle cx="512" cy="63.2" r="2" fill="#0000cc"/>
<circle cx="524.7" cy="54.2" r="2" fill="#0000cc"/>
<circle cx="524.7" cy="58.7" r="2" fill="#0000cc"/>
<circle cx="524.7" cy="62.9" r="2" fill="#0000cc"/>
<circle cx="518.2" cy="60.4" r="2" fill="#0000cc"/>
<line x1="485" y1="45.4" x2="501.7" y2="45.4" stroke="#111" stroke-width="1.4"/>
<line x1="493.4" y1="39.4" x2="493.4" y2="51.2" stroke="#111" stroke-width="1.0"/>
<line x1="489.4" y1="39.4" x2="497.4" y2="39.4" stroke="#111" stroke-width="1.0"/>
<line x1="489.4" y1="51.2" x2="497.4" y2="51.2" stroke="#111" stroke-width="1.0"/>
<line x1="510" y1="59.3" x2="526.8" y2="59.3" stroke="#111" stroke-width="1.4"/>
<line x1="518.4" y1="58.2" x2="518.4" y2="60.6" stroke="#111" stroke-width="1.0"/>
<line x1="514.4" y1="58.2" x2="522.4" y2="58.2" stroke="#111" stroke-width="1.0"/>
<line x1="514.4" y1="60.6" x2="522.4" y2="60.6" stroke="#111" stroke-width="1.0"/>
<text x="455.5" y="171.8" font-size="9.5" font-weight="bold" text-anchor="middle" fill="#111">i</text>
<line x1="476.5" y1="182.8" x2="476.5" y2="279.1" stroke="#333" stroke-width="1"/>
<line x1="473.2" y1="278.8" x2="476.5" y2="278.8" stroke="#333" stroke-width="1"/>
<text x="471.2" y="281.24" font-size="8.5" text-anchor="end" fill="#222">0</text>
<line x1="473.2" y1="246.8" x2="476.5" y2="246.8" stroke="#333" stroke-width="1"/>
<text x="471.2" y="249.84" font-size="8.5" text-anchor="end" fill="#222">1</text>
<line x1="473.2" y1="214.8" x2="476.5" y2="214.8" stroke="#333" stroke-width="1"/>
<text x="471.2" y="217.84" font-size="8.5" text-anchor="end" fill="#222">2</text>
<line x1="473.2" y1="182.8" x2="476.5" y2="182.8" stroke="#333" stroke-width="1"/>
<text x="471.2" y="185.84" font-size="8.5" text-anchor="end" fill="#222">3</text>
<line x1="476.5" y1="279.1" x2="535.5" y2="279.1" stroke="#444" stroke-width="1.3"/>
<text x="492.5" y="292.09" font-size="9.2" text-anchor="middle" fill="#222">Basal</text>
<text x="520" y="292.09" font-size="9.2" text-anchor="middle" fill="#222">Cu</text>
<text transform="translate(462.7,233.1) rotate(-90)" x="0" y="3.5" font-size="9.8" text-anchor="middle" fill="#222" font-style="italic">N</text>
<line x1="458.2" y1="227.9" x2="458.2" y2="236.6" stroke="#222" stroke-width="0.9"/>
<text x="505.6" y="178.27" font-size="6.9" text-anchor="middle" fill="#222">p=0.7758</text>
<line x1="493.4" y1="181.2" x2="518.4" y2="181.2" stroke="#222" stroke-width="0.9"/>
<line x1="493.4" y1="181.2" x2="493.4" y2="189" stroke="#222" stroke-width="0.9"/>
<line x1="518.4" y1="181.2" x2="518.4" y2="184.5" stroke="#222" stroke-width="0.9"/>
<circle cx="493.4" cy="194.2" r="2" fill="#ff9a9a"/>
<circle cx="493.4" cy="200" r="2" fill="#ff9a9a"/>
<circle cx="489" cy="208.7" r="2" fill="#ff9a9a"/>
<circle cx="497.3" cy="205.8" r="2" fill="#ff9a9a"/>
<circle cx="493.4" cy="215.9" r="2" fill="#ff9a9a"/>
<circle cx="493.4" cy="221.9" r="2" fill="#ff9a9a"/>
<circle cx="518" cy="192.8" r="2" fill="#ff0000"/>
<circle cx="525" cy="189.4" r="2" fill="#ff0000"/>
<circle cx="511.8" cy="215.1" r="2" fill="#ff0000"/>
<circle cx="525" cy="217.4" r="2" fill="#ff0000"/>
<circle cx="518" cy="218.8" r="2" fill="#ff0000"/>
<circle cx="518" cy="226.1" r="2" fill="#ff0000"/>
<line x1="485" y1="207.7" x2="501.7" y2="207.7" stroke="#111" stroke-width="1.4"/>
<line x1="493.4" y1="203.9" x2="493.4" y2="212" stroke="#111" stroke-width="1.0"/>
<line x1="489.4" y1="203.9" x2="497.4" y2="203.9" stroke="#111" stroke-width="1.0"/>
<line x1="489.4" y1="212" x2="497.4" y2="212" stroke="#111" stroke-width="1.0"/>
<line x1="510" y1="210.1" x2="526.8" y2="210.1" stroke="#111" stroke-width="1.4"/>
<line x1="518.4" y1="204.3" x2="518.4" y2="216.4" stroke="#111" stroke-width="1.0"/>
<line x1="514.4" y1="204.3" x2="522.4" y2="204.3" stroke="#111" stroke-width="1.0"/>
<line x1="514.4" y1="216.4" x2="522.4" y2="216.4" stroke="#111" stroke-width="1.0"/>
<text x="543.4" y="10.1" font-size="9.5" font-weight="bold" text-anchor="middle" fill="#111">e</text>
<line x1="567.4" y1="24.1" x2="567.4" y2="120.9" stroke="#333" stroke-width="1"/>
<line x1="563.8" y1="120.9" x2="567.4" y2="120.9" stroke="#333" stroke-width="1"/>
<text x="562.6" y="125.44" font-size="8.5" text-anchor="end" fill="#222">0</text>
<line x1="563.8" y1="103.3" x2="567.4" y2="103.3" stroke="#333" stroke-width="1"/>
<text x="562.6" y="106.34" font-size="8.5" text-anchor="end" fill="#222">20</text>
<line x1="563.8" y1="85.7" x2="567.4" y2="85.7" stroke="#333" stroke-width="1"/>
<text x="562.6" y="88.74" font-size="8.5" text-anchor="end" fill="#222">40</text>
<line x1="563.8" y1="68.1" x2="567.4" y2="68.1" stroke="#333" stroke-width="1"/>
<text x="562.6" y="71.14" font-size="8.5" text-anchor="end" fill="#222">60</text>
<line x1="563.8" y1="50.5" x2="567.4" y2="50.5" stroke="#333" stroke-width="1"/>
<text x="562.6" y="53.54" font-size="8.5" text-anchor="end" fill="#222">80</text>
<line x1="563.8" y1="32.9" x2="567.4" y2="32.9" stroke="#333" stroke-width="1"/>
<text x="562.6" y="35.94" font-size="8.5" text-anchor="end" fill="#222">100</text>
<line x1="567.4" y1="120.9" x2="685" y2="120.9" stroke="#8a8a8a" stroke-width="1.9"/>
<text x="586.8" y="131.59" font-size="9.2" text-anchor="middle" fill="#222">Basal</text>
<text x="612.7" y="131.59" font-size="9.2" text-anchor="middle" fill="#222">Cu</text>
<text x="641.7" y="131.59" font-size="9.2" text-anchor="middle" fill="#222">Basal</text>
<text x="666.6" y="131.59" font-size="9.2" text-anchor="middle" fill="#222">Cu</text>
<text transform="translate(545.9,64.3) rotate(-90)" x="0" y="3.3" font-size="9.8" text-anchor="middle" fill="#222"><tspan font-style="italic">Trimer</tspan> (%)</text>
<text x="583" y="5.8" font-size="8.4" fill="#4658bc">Model 1</text>
<text x="578.9" y="16" font-size="8.4" fill="#4658bc">(T</text>
<path d="M588.3,12.8 H594.4 M591.7,10.3 L595,12.8 L591.7,15.3" fill="none" stroke="#4658bc" stroke-width="1.15"/>
<text x="595.4" y="16" font-size="8.4" fill="#4658bc">M+D)</text>
<text x="638.6" y="5.8" font-size="8.4" fill="#ec2f3a">Model 2</text>
<text x="637.9" y="16" font-size="8.4" fill="#ec2f3a">(T</text>
<path d="M646,12.8 H652.7 M650,10.3 L653.3,12.8 L650,15.3" fill="none" stroke="#ec2f3a" stroke-width="1.15"/>
<text x="654.6" y="16" font-size="8.4" fill="#ec2f3a">3M)</text>
<text x="598.3" y="26.87" font-size="6.9" text-anchor="middle" fill="#222">p=0.0064</text>
<line x1="586.3" y1="30.2" x2="611.4" y2="30.2" stroke="#222" stroke-width="0.9"/>
<line x1="586.3" y1="30.2" x2="586.3" y2="34.4" stroke="#222" stroke-width="0.9"/>
<line x1="611.4" y1="30.2" x2="611.4" y2="81" stroke="#222" stroke-width="0.9"/>
<text x="652.8" y="27.07" font-size="6.9" text-anchor="middle" fill="#222">p=0.0625</text>
<line x1="639.5" y1="30.4" x2="665.5" y2="30.4" stroke="#222" stroke-width="0.9"/>
<line x1="639.5" y1="30.4" x2="639.5" y2="34.4" stroke="#222" stroke-width="0.9"/>
<line x1="665.5" y1="30.4" x2="665.5" y2="65.3" stroke="#222" stroke-width="0.9"/>
<circle cx="586.3" cy="42.7" r="2" fill="#8080ff"/>
<circle cx="586.3" cy="59.3" r="2" fill="#8080ff"/>
<circle cx="586.3" cy="90.8" r="2" fill="#8080ff"/>
<circle cx="586.3" cy="94.7" r="2" fill="#8080ff"/>
<line x1="577" y1="71.9" x2="595.6" y2="71.9" stroke="#111" stroke-width="1.4"/>
<line x1="586.3" y1="59.4" x2="586.3" y2="84.4" stroke="#111" stroke-width="1.0"/>
<line x1="582.1" y1="59.4" x2="590.5" y2="59.4" stroke="#111" stroke-width="1.0"/>
<line x1="582.1" y1="84.4" x2="590.5" y2="84.4" stroke="#111" stroke-width="1.0"/>
<circle cx="611.6" cy="89.4" r="2" fill="#0000cc"/>
<circle cx="611.6" cy="94.7" r="2" fill="#0000cc"/>
<circle cx="607.6" cy="101.4" r="2" fill="#0000cc"/>
<circle cx="615.7" cy="100.9" r="2" fill="#0000cc"/>
<circle cx="615.7" cy="104.4" r="2" fill="#0000cc"/>
<circle cx="608" cy="107.6" r="2" fill="#0000cc"/>
<line x1="602.1" y1="99.6" x2="620.7" y2="99.6" stroke="#111" stroke-width="1.4"/>
<line x1="611.4" y1="97.2" x2="611.4" y2="102" stroke="#111" stroke-width="1.0"/>
<line x1="607.2" y1="97.2" x2="615.6" y2="97.2" stroke="#111" stroke-width="1.0"/>
<line x1="607.2" y1="102" x2="615.6" y2="102" stroke="#111" stroke-width="1.0"/>
<circle cx="639.5" cy="42.5" r="2" fill="#ff9a9a"/>
<circle cx="639.5" cy="54.3" r="2" fill="#ff9a9a"/>
<circle cx="635.9" cy="77.1" r="2" fill="#ff9a9a"/>
<circle cx="643.8" cy="75" r="2" fill="#ff9a9a"/>
<line x1="630.2" y1="62.2" x2="648.8" y2="62.2" stroke="#111" stroke-width="1.4"/>
<line x1="639.5" y1="53.9" x2="639.5" y2="70.6" stroke="#111" stroke-width="1.0"/>
<line x1="635.3" y1="53.9" x2="643.7" y2="53.9" stroke="#111" stroke-width="1.0"/>
<line x1="635.3" y1="70.6" x2="643.7" y2="70.6" stroke="#111" stroke-width="1.0"/>
<circle cx="665.4" cy="73" r="2" fill="#ff0000"/>
<circle cx="658.1" cy="77.5" r="2" fill="#ff0000"/>
<circle cx="672.8" cy="79.1" r="2" fill="#ff0000"/>
<circle cx="658.1" cy="85.3" r="2" fill="#ff0000"/>
<circle cx="672.8" cy="83.8" r="2" fill="#ff0000"/>
<circle cx="665.4" cy="81.4" r="2" fill="#ff0000"/>
<line x1="656.1" y1="80.1" x2="674.7" y2="80.1" stroke="#111" stroke-width="1.4"/>
<line x1="665.4" y1="78.6" x2="665.4" y2="82.2" stroke="#111" stroke-width="1.0"/>
<line x1="661.2" y1="78.6" x2="669.6" y2="78.6" stroke="#111" stroke-width="1.0"/>
<line x1="661.2" y1="82.2" x2="669.6" y2="82.2" stroke="#111" stroke-width="1.0"/>
<text x="547.3" y="171.6" font-size="9.5" font-weight="bold" text-anchor="middle" fill="#111">j</text>
<line x1="567.4" y1="183" x2="567.4" y2="280.2" stroke="#333" stroke-width="1"/>
<line x1="563.8" y1="279.8" x2="567.4" y2="279.8" stroke="#333" stroke-width="1"/>
<text x="562.6" y="282.84" font-size="8.5" text-anchor="end" fill="#222">0</text>
<line x1="563.8" y1="262.2" x2="567.4" y2="262.2" stroke="#333" stroke-width="1"/>
<text x="562.6" y="265.24" font-size="8.5" text-anchor="end" fill="#222">20</text>
<line x1="563.8" y1="244.6" x2="567.4" y2="244.6" stroke="#333" stroke-width="1"/>
<text x="562.6" y="247.64" font-size="8.5" text-anchor="end" fill="#222">40</text>
<line x1="563.8" y1="227" x2="567.4" y2="227" stroke="#333" stroke-width="1"/>
<text x="562.6" y="230.04" font-size="8.5" text-anchor="end" fill="#222">60</text>
<line x1="563.8" y1="209.4" x2="567.4" y2="209.4" stroke="#333" stroke-width="1"/>
<text x="562.6" y="212.44" font-size="8.5" text-anchor="end" fill="#222">80</text>
<line x1="563.8" y1="191.8" x2="567.4" y2="191.8" stroke="#333" stroke-width="1"/>
<text x="562.6" y="194.84" font-size="8.5" text-anchor="end" fill="#222">100</text>
<line x1="567.4" y1="280.2" x2="685" y2="280.2" stroke="#8a8a8a" stroke-width="1.9"/>
<text x="586.8" y="293.79" font-size="9.2" text-anchor="middle" fill="#222">Basal</text>
<text x="612.7" y="293.79" font-size="9.2" text-anchor="middle" fill="#222">Cu</text>
<text x="641.7" y="293.79" font-size="9.2" text-anchor="middle" fill="#222">Basal</text>
<text x="666.6" y="293.79" font-size="9.2" text-anchor="middle" fill="#222">Cu</text>
<text transform="translate(545.9,228.5) rotate(-90)" x="0" y="3.3" font-size="9.8" text-anchor="middle" fill="#222"><tspan font-style="italic">Trimer</tspan> (%)</text>
<text x="583" y="165.1" font-size="8.4" fill="#4658bc">Model 1</text>
<text x="578.9" y="175.3" font-size="8.4" fill="#4658bc">(T</text>
<path d="M588.3,172.1 H594.4 M591.7,169.6 L595,172.1 L591.7,174.6" fill="none" stroke="#4658bc" stroke-width="1.15"/>
<text x="595.4" y="175.3" font-size="8.4" fill="#4658bc">M+D)</text>
<text x="638.6" y="165.1" font-size="8.4" fill="#ec2f3a">Model 2</text>
<text x="637.9" y="175.3" font-size="8.4" fill="#ec2f3a">(T</text>
<path d="M646,172.1 H652.7 M650,169.6 L653.3,172.1 L650,174.6" fill="none" stroke="#ec2f3a" stroke-width="1.15"/>
<text x="654.6" y="175.3" font-size="8.4" fill="#ec2f3a">3M)</text>
<text x="598.3" y="186.17" font-size="6.9" text-anchor="middle" fill="#222">p=0.6942</text>
<line x1="586.3" y1="189.5" x2="611.4" y2="189.5" stroke="#222" stroke-width="0.9"/>
<line x1="586.3" y1="189.5" x2="586.3" y2="201.5" stroke="#222" stroke-width="0.9"/>
<line x1="611.4" y1="189.5" x2="611.4" y2="194.4" stroke="#222" stroke-width="0.9"/>
<text x="652.8" y="186.77" font-size="6.9" text-anchor="middle" fill="#222">p=0.8591</text>
<line x1="638.9" y1="190.1" x2="665.3" y2="190.1" stroke="#222" stroke-width="0.9"/>
<line x1="638.9" y1="190.1" x2="638.9" y2="199.8" stroke="#222" stroke-width="0.9"/>
<line x1="665.3" y1="190.1" x2="665.3" y2="194.4" stroke="#222" stroke-width="0.9"/>
<circle cx="586.3" cy="208.3" r="2" fill="#8080ff"/>
<circle cx="586.3" cy="221.4" r="2" fill="#8080ff"/>
<circle cx="582" cy="235.6" r="2" fill="#8080ff"/>
<circle cx="590.2" cy="233.7" r="2" fill="#8080ff"/>
<circle cx="586.3" cy="252.7" r="2" fill="#8080ff"/>
<circle cx="586.3" cy="267.2" r="2" fill="#8080ff"/>
<line x1="577" y1="236.6" x2="595.6" y2="236.6" stroke="#111" stroke-width="1.4"/>
<line x1="586.3" y1="227.9" x2="586.3" y2="245.3" stroke="#111" stroke-width="1.0"/>
<line x1="582.1" y1="227.9" x2="590.5" y2="227.9" stroke="#111" stroke-width="1.0"/>
<line x1="582.1" y1="245.3" x2="590.5" y2="245.3" stroke="#111" stroke-width="1.0"/>
<circle cx="611.4" cy="200.7" r="2" fill="#0000cc"/>
<circle cx="611.4" cy="207.9" r="2" fill="#0000cc"/>
<circle cx="608" cy="254.6" r="2" fill="#0000cc"/>
<circle cx="615.7" cy="254" r="2" fill="#0000cc"/>
<circle cx="611.4" cy="258.5" r="2" fill="#0000cc"/>
<circle cx="611.4" cy="273" r="2" fill="#0000cc"/>
<line x1="602.1" y1="241.5" x2="620.7" y2="241.5" stroke="#111" stroke-width="1.4"/>
<line x1="611.4" y1="229.3" x2="611.4" y2="254" stroke="#111" stroke-width="1.0"/>
<line x1="607.2" y1="229.3" x2="615.6" y2="229.3" stroke="#111" stroke-width="1.0"/>
<line x1="607.2" y1="254" x2="615.6" y2="254" stroke="#111" stroke-width="1.0"/>
<circle cx="639.7" cy="206.8" r="2" fill="#ff9a9a"/>
<circle cx="639.7" cy="215.3" r="2" fill="#ff9a9a"/>
<circle cx="643.7" cy="223.1" r="2" fill="#ff9a9a"/>
<circle cx="636" cy="225.8" r="2" fill="#ff9a9a"/>
<circle cx="639.7" cy="235.8" r="2" fill="#ff9a9a"/>
<circle cx="639.7" cy="244.8" r="2" fill="#ff9a9a"/>
<line x1="630.4" y1="225.3" x2="649" y2="225.3" stroke="#111" stroke-width="1.4"/>
<line x1="639.7" y1="219.7" x2="639.7" y2="230.6" stroke="#111" stroke-width="1.0"/>
<line x1="635.5" y1="219.7" x2="643.9" y2="219.7" stroke="#111" stroke-width="1.0"/>
<line x1="635.5" y1="230.6" x2="643.9" y2="230.6" stroke="#111" stroke-width="1.0"/>
<circle cx="665.3" cy="200.5" r="2" fill="#ff0000"/>
<circle cx="665.3" cy="206" r="2" fill="#ff0000"/>
<circle cx="669.5" cy="233.7" r="2" fill="#ff0000"/>
<circle cx="661.2" cy="237.6" r="2" fill="#ff0000"/>
<circle cx="669.5" cy="239.5" r="2" fill="#ff0000"/>
<circle cx="665.3" cy="246.9" r="2" fill="#ff0000"/>
<line x1="656" y1="227.3" x2="674.6" y2="227.3" stroke="#111" stroke-width="1.4"/>
<line x1="665.3" y1="219.5" x2="665.3" y2="235.1" stroke="#111" stroke-width="1.0"/>
<line x1="661.1" y1="219.5" x2="669.5" y2="219.5" stroke="#111" stroke-width="1.0"/>
<line x1="661.1" y1="235.1" x2="669.5" y2="235.1" stroke="#111" stroke-width="1.0"/>
</svg>
</body></html>
